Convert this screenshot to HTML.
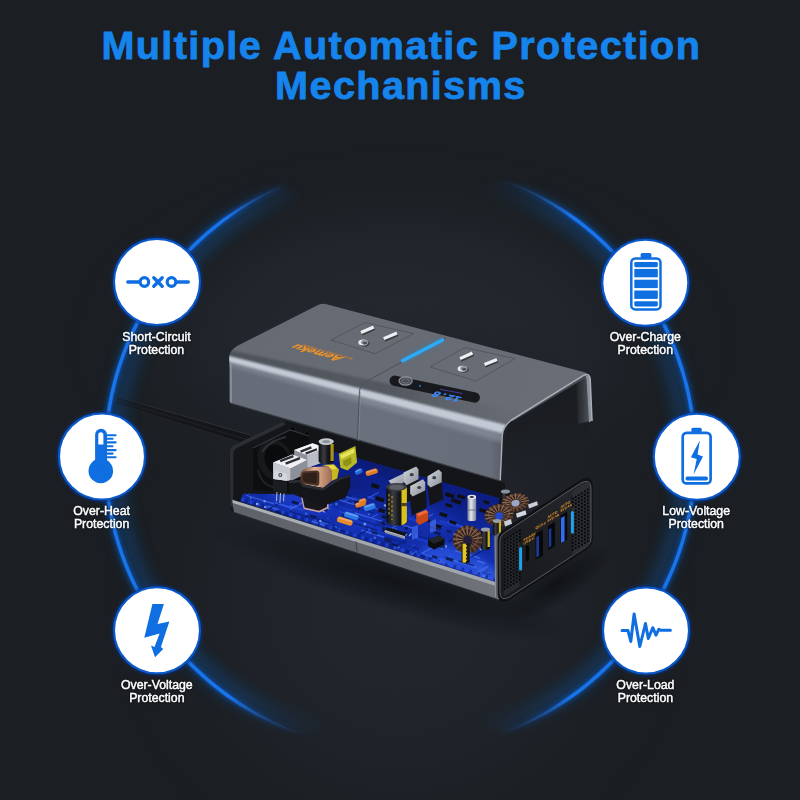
<!DOCTYPE html>
<html lang="en">
<head>
<meta charset="utf-8">
<title>Multiple Automatic Protection Mechanisms</title>
<style>
html,body{margin:0;padding:0;background:#1b1e22;}
body{width:800px;height:800px;overflow:hidden;font-family:"Liberation Sans",sans-serif;}
svg{display:block;}
.ttl{font-family:"Liberation Sans",sans-serif;font-weight:700;font-size:39.6px;fill:#1584ec;stroke:#1584ec;stroke-width:0.8px;letter-spacing:1.4px;}
.lbl{font-family:"Liberation Sans",sans-serif;font-size:12.3px;fill:#ffffff;stroke:#ffffff;stroke-width:0.45px;filter:drop-shadow(0 0 0.9px rgba(4,8,14,0.95));}
</style>
</head>
<body>
<svg width="800" height="800" viewBox="0 0 800 800">
<defs>
  <radialGradient id="bgWall" gradientUnits="userSpaceOnUse" cx="400" cy="345" r="340" gradientTransform="translate(0 345) scale(1 0.6) translate(0 -345)">
    <stop offset="0" stop-color="#252a31"/>
    <stop offset="0.55" stop-color="#20252b"/>
    <stop offset="1" stop-color="#1a1d21" stop-opacity="0"/>
  </radialGradient>
  <radialGradient id="bgFloor" gradientUnits="userSpaceOnUse" cx="400" cy="600" r="300">
    <stop offset="0" stop-color="#22272e"/>
    <stop offset="0.55" stop-color="#1f2329"/>
    <stop offset="1" stop-color="#1a1d21" stop-opacity="0"/>
  </radialGradient>
  <linearGradient id="arcFade" gradientUnits="userSpaceOnUse" x1="0" y1="178" x2="0" y2="736">
    <stop offset="0" stop-color="#fff" stop-opacity="0"/>
    <stop offset="0.07" stop-color="#fff" stop-opacity="1"/>
    <stop offset="0.93" stop-color="#fff" stop-opacity="1"/>
    <stop offset="1" stop-color="#fff" stop-opacity="0"/>
  </linearGradient>
  <mask id="arcMask" maskUnits="userSpaceOnUse" x="0" y="0" width="800" height="800">
    <rect x="0" y="150" width="800" height="620" fill="url(#arcFade)"/>
  </mask>
  <filter id="blur3" x="-20%" y="-20%" width="140%" height="140%"><feGaussianBlur stdDeviation="3"/></filter>
  <filter id="blur8" x="-30%" y="-30%" width="160%" height="160%"><feGaussianBlur stdDeviation="7"/></filter>
  <filter id="blur2" x="-30%" y="-30%" width="160%" height="160%"><feGaussianBlur stdDeviation="2.2"/></filter>
</defs>

<!-- background -->
<rect width="800" height="800" fill="#1b1e22"/>
<rect width="800" height="800" fill="url(#bgWall)"/>
<rect width="800" height="800" fill="url(#bgFloor)"/>

<!-- title -->
<text class="ttl" x="401.3" y="59" text-anchor="middle">Multiple Automatic Protection</text>
<text class="ttl" x="400.9" y="99" text-anchor="middle">Mechanisms</text>

<!-- glowing arcs -->
<g id="arcs" mask="url(#arcMask)">
<g fill="none" stroke-linecap="butt">
<path d="M281.6 186.4 A294.9 294.9 0 0 0 309.0 736.9" stroke="#0c4d8e" stroke-width="20" opacity="0.42" filter="url(#blur8)" transform="translate(9 0)"/>
<path d="M501.5 179.5 A294.9 294.9 0 0 1 502.0 733.2" stroke="#0c4d8e" stroke-width="20" opacity="0.42" filter="url(#blur8)" transform="translate(-9 0)"/>
<path d="M281.6 186.4 A294.9 294.9 0 0 0 309.0 736.9" stroke="#0b51b4" stroke-width="6" opacity="0.8" filter="url(#blur2)"/>
<path d="M501.5 179.5 A294.9 294.9 0 0 1 502.0 733.2" stroke="#0b51b4" stroke-width="6" opacity="0.8" filter="url(#blur2)"/>
</g>
<path d="M281.6 186.4 L277.4 187.9 L273.3 189.7 L269.3 191.5 L265.2 193.4 L261.2 195.4 L257.3 197.4 L253.3 199.5 L249.4 201.7 L245.6 203.9 L241.7 206.2 L237.9 208.6 L234.2 211.0 L230.5 213.5 L226.8 216.0 L223.1 218.6 L219.5 221.3 L216.0 224.0 L212.4 226.7 L209.0 229.6 L205.6 232.5 L202.2 235.4 L198.9 238.4 L195.6 241.5 L192.4 244.6 L189.3 247.8 L186.1 251.0 L183.1 254.2 L180.0 257.5 L177.1 260.9 L174.1 264.3 L171.3 267.7 L168.4 271.2 L165.7 274.7 L163.0 278.2 L160.3 281.8 L157.7 285.5 L155.1 289.2 L152.6 292.9 L150.2 296.6 L147.8 300.4 L145.5 304.2 L143.2 308.1 L141.0 312.0 L138.9 315.9 L136.8 319.9 L134.8 323.9 L132.8 327.9 L130.9 331.9 L129.0 336.0 L127.2 340.1 L125.5 344.2 L123.9 348.4 L122.3 352.6 L120.7 356.8 L119.3 361.0 L117.9 365.2 L116.5 369.5 L115.2 373.8 L114.0 378.1 L112.9 382.4 L111.8 386.8 L110.8 391.1 L109.8 395.5 L108.9 399.9 L108.1 404.3 L107.4 408.7 L106.7 413.1 L106.1 417.6 L105.5 422.0 L105.0 426.5 L104.6 430.9 L104.2 435.4 L104.0 439.8 L103.7 444.3 L103.6 448.8 L103.5 453.3 L103.5 457.7 L103.6 462.2 L103.7 466.7 L103.9 471.1 L104.1 475.6 L104.4 480.1 L104.8 484.5 L105.3 489.0 L105.8 493.4 L106.4 497.9 L107.1 502.3 L107.8 506.7 L108.6 511.1 L109.4 515.5 L110.4 519.9 L111.4 524.3 L112.4 528.6 L113.5 532.9 L114.7 537.2 L116.0 541.5 L117.3 545.8 L118.7 550.1 L120.1 554.3 L121.6 558.5 L123.2 562.7 L124.8 566.9 L126.5 571.0 L128.3 575.1 L130.1 579.2 L132.0 583.3 L134.0 587.3 L136.0 591.3 L138.0 595.3 L140.1 599.2 L142.3 603.1 L144.6 607.0 L146.9 610.8 L149.2 614.6 L151.6 618.4 L154.1 622.1 L156.7 625.8 L159.2 629.5 L161.9 633.1 L164.6 636.7 L167.3 640.2 L170.1 643.7 L173.0 647.2 L175.9 650.6 L178.8 653.9 L181.8 657.2 L184.9 660.5 L188.0 663.7 L191.1 666.9 L194.3 670.0 L197.6 673.1 L200.9 676.2 L204.2 679.1 L207.6 682.1 L211.0 684.9 L214.5 687.8 L218.0 690.5 L221.6 693.3 L225.1 695.9 L228.8 698.5 L232.5 701.1 L236.2 703.6 L240.0 706.0 L243.8 708.3 L247.6 710.6 L251.5 712.8 L255.4 715.0 L259.4 717.1 L263.4 719.1 L267.4 721.1 L271.4 723.0 L275.5 724.8 L279.6 726.6 L283.7 728.3 L287.8 729.9 L292.0 731.5 L296.2 733.0 L300.4 734.4 L304.7 735.7 L309.0 736.9 L309.0 736.9 L304.9 735.2 L300.8 733.6 L296.6 731.9 L292.5 730.2 L288.4 728.5 L284.4 726.7 L280.4 724.8 L276.4 722.9 L272.4 720.9 L268.4 718.9 L264.5 716.8 L260.7 714.7 L256.8 712.5 L253.0 710.2 L249.2 707.9 L245.5 705.6 L241.8 703.2 L238.1 700.7 L234.4 698.2 L230.8 695.7 L227.2 693.1 L223.7 690.5 L220.2 687.8 L216.7 685.0 L213.3 682.2 L209.9 679.4 L206.5 676.5 L203.2 673.6 L200.0 670.6 L196.8 667.5 L193.6 664.4 L190.5 661.3 L187.4 658.1 L184.4 654.9 L181.4 651.6 L178.5 648.3 L175.6 644.9 L172.8 641.5 L170.1 638.0 L167.3 634.6 L164.7 631.0 L162.1 627.4 L159.5 623.8 L157.0 620.2 L154.6 616.5 L152.2 612.8 L149.9 609.0 L147.6 605.2 L145.4 601.4 L143.2 597.5 L141.1 593.6 L139.1 589.7 L137.1 585.8 L135.2 581.8 L133.3 577.8 L131.5 573.7 L129.8 569.7 L128.1 565.6 L126.5 561.5 L124.9 557.3 L123.4 553.2 L122.0 549.0 L120.6 544.8 L119.3 540.5 L118.1 536.3 L116.9 532.0 L115.8 527.8 L114.8 523.5 L113.8 519.1 L112.9 514.8 L112.0 510.5 L111.2 506.1 L110.5 501.8 L109.9 497.4 L109.3 493.0 L108.8 488.6 L108.3 484.2 L107.9 479.8 L107.6 475.4 L107.4 471.0 L107.2 466.6 L107.1 462.1 L107.0 457.7 L107.0 453.3 L107.1 448.9 L107.2 444.5 L107.5 440.0 L107.7 435.6 L108.1 431.2 L108.5 426.8 L109.0 422.4 L109.5 418.0 L110.1 413.6 L110.8 409.3 L111.6 404.9 L112.4 400.6 L113.2 396.2 L114.2 391.9 L115.2 387.6 L116.3 383.3 L117.4 379.0 L118.6 374.8 L119.9 370.5 L121.2 366.3 L122.6 362.1 L124.0 357.9 L125.5 353.8 L127.1 349.7 L128.8 345.6 L130.5 341.5 L132.2 337.4 L134.1 333.4 L135.9 329.4 L137.9 325.4 L139.9 321.5 L142.0 317.6 L144.1 313.7 L146.3 309.8 L148.5 306.0 L150.8 302.2 L153.2 298.5 L155.6 294.8 L158.0 291.1 L160.6 287.5 L163.1 283.9 L165.8 280.3 L168.4 276.8 L171.2 273.3 L174.0 269.9 L176.8 266.5 L179.7 263.2 L182.6 259.9 L185.6 256.6 L188.7 253.4 L191.7 250.2 L194.9 247.1 L198.1 244.0 L201.3 241.0 L204.6 238.0 L207.9 235.1 L211.2 232.2 L214.6 229.4 L218.0 226.6 L221.5 223.8 L225.0 221.1 L228.5 218.4 L232.1 215.8 L235.7 213.2 L239.3 210.7 L243.0 208.3 L246.7 205.9 L250.5 203.5 L254.3 201.2 L258.1 199.0 L262.0 196.8 L265.9 194.6 L269.8 192.5 L273.7 190.5 L277.7 188.5 L281.6 186.4Z" fill="#1874ea"/>
<path d="M501.5 179.5 L505.8 180.8 L510.1 182.2 L514.3 183.8 L518.5 185.5 L522.6 187.2 L526.7 189.1 L530.8 190.9 L534.9 192.9 L538.9 194.9 L542.9 197.0 L546.9 199.1 L550.9 201.3 L554.8 203.6 L558.6 205.9 L562.5 208.3 L566.3 210.8 L570.0 213.3 L573.7 215.9 L577.4 218.5 L581.0 221.2 L584.6 224.0 L588.1 226.9 L591.6 229.8 L595.0 232.7 L598.4 235.7 L601.7 238.7 L605.0 241.8 L608.3 245.0 L611.4 248.2 L614.6 251.4 L617.7 254.7 L620.7 258.1 L623.7 261.4 L626.7 264.9 L629.6 268.3 L632.4 271.9 L635.2 275.4 L637.9 279.0 L640.6 282.7 L643.2 286.4 L645.8 290.1 L648.3 293.8 L650.7 297.6 L653.1 301.5 L655.5 305.4 L657.7 309.3 L659.9 313.2 L662.1 317.2 L664.2 321.2 L666.2 325.2 L668.2 329.3 L670.1 333.4 L671.9 337.5 L673.7 341.7 L675.4 345.9 L677.1 350.1 L678.7 354.3 L680.2 358.6 L681.7 362.8 L683.1 367.1 L684.4 371.5 L685.6 375.8 L686.8 380.2 L688.0 384.5 L689.0 388.9 L690.0 393.3 L690.9 397.8 L691.8 402.2 L692.6 406.7 L693.3 411.1 L694.0 415.6 L694.6 420.1 L695.1 424.6 L695.5 429.1 L695.9 433.6 L696.2 438.1 L696.5 442.6 L696.7 447.1 L696.8 451.6 L696.8 456.1 L696.8 460.7 L696.7 465.2 L696.5 469.7 L696.3 474.2 L696.0 478.7 L695.6 483.2 L695.1 487.7 L694.6 492.2 L694.0 496.7 L693.4 501.2 L692.7 505.6 L691.9 510.1 L691.0 514.5 L690.1 519.0 L689.1 523.4 L688.1 527.8 L687.0 532.1 L685.8 536.5 L684.5 540.8 L683.2 545.2 L681.8 549.5 L680.4 553.8 L678.9 558.0 L677.3 562.3 L675.6 566.5 L673.9 570.6 L672.1 574.8 L670.3 578.9 L668.4 583.0 L666.5 587.1 L664.4 591.2 L662.3 595.2 L660.2 599.1 L658.0 603.1 L655.7 607.0 L653.4 610.9 L651.0 614.7 L648.6 618.5 L646.1 622.3 L643.5 626.0 L640.9 629.7 L638.2 633.4 L635.5 637.0 L632.7 640.5 L629.9 644.1 L627.0 647.5 L624.1 651.0 L621.1 654.4 L618.0 657.7 L615.0 661.0 L611.8 664.2 L608.6 667.4 L605.4 670.6 L602.1 673.7 L598.8 676.8 L595.4 679.8 L591.9 682.7 L588.5 685.6 L585.0 688.4 L581.4 691.2 L577.8 694.0 L574.2 696.6 L570.4 699.2 L566.7 701.7 L562.9 704.2 L559.1 706.6 L555.2 708.9 L551.3 711.2 L547.4 713.4 L543.4 715.6 L539.4 717.6 L535.4 719.7 L531.3 721.6 L527.2 723.5 L523.1 725.3 L518.9 727.1 L514.7 728.8 L510.5 730.4 L506.3 731.9 L502.0 733.2 L502.0 733.2 L506.1 731.3 L510.2 729.5 L514.3 727.7 L518.4 725.8 L522.4 723.9 L526.4 721.9 L530.4 719.9 L534.4 717.8 L538.3 715.6 L542.2 713.4 L546.1 711.2 L549.9 708.9 L553.7 706.5 L557.5 704.1 L561.2 701.6 L564.9 699.1 L568.5 696.5 L572.1 693.8 L575.7 691.2 L579.3 688.5 L582.8 685.7 L586.3 682.9 L589.7 680.0 L593.1 677.1 L596.4 674.2 L599.7 671.1 L603.0 668.1 L606.2 665.0 L609.3 661.8 L612.4 658.6 L615.5 655.3 L618.5 652.0 L621.4 648.7 L624.3 645.3 L627.2 641.8 L630.0 638.4 L632.7 634.8 L635.4 631.3 L638.1 627.7 L640.7 624.0 L643.2 620.3 L645.6 616.6 L648.1 612.9 L650.4 609.1 L652.7 605.2 L655.0 601.4 L657.1 597.5 L659.2 593.5 L661.3 589.6 L663.3 585.6 L665.2 581.5 L667.1 577.5 L668.9 573.4 L670.7 569.3 L672.4 565.2 L674.0 561.0 L675.6 556.8 L677.1 552.6 L678.5 548.4 L679.9 544.1 L681.2 539.9 L682.4 535.6 L683.6 531.2 L684.7 526.9 L685.7 522.6 L686.7 518.2 L687.6 513.8 L688.5 509.5 L689.2 505.1 L689.9 500.6 L690.6 496.2 L691.2 491.8 L691.7 487.4 L692.1 482.9 L692.5 478.5 L692.8 474.0 L693.0 469.5 L693.2 465.1 L693.3 460.6 L693.3 456.1 L693.3 451.7 L693.2 447.2 L693.0 442.7 L692.7 438.3 L692.4 433.8 L692.1 429.4 L691.6 424.9 L691.1 420.5 L690.5 416.1 L689.9 411.6 L689.1 407.2 L688.4 402.8 L687.5 398.5 L686.6 394.1 L685.6 389.7 L684.6 385.4 L683.5 381.1 L682.3 376.7 L681.0 372.5 L679.7 368.2 L678.3 363.9 L676.9 359.7 L675.4 355.5 L673.8 351.3 L672.2 347.2 L670.5 343.0 L668.7 338.9 L666.9 334.8 L665.0 330.8 L663.1 326.8 L661.1 322.8 L659.0 318.8 L656.9 314.9 L654.7 311.0 L652.5 307.1 L650.1 303.3 L647.8 299.5 L645.4 295.8 L642.9 292.0 L640.4 288.4 L637.8 284.7 L635.1 281.1 L632.4 277.6 L629.7 274.0 L626.9 270.6 L624.0 267.1 L621.1 263.7 L618.1 260.4 L615.1 257.1 L612.1 253.8 L609.0 250.6 L605.8 247.5 L602.6 244.4 L599.3 241.3 L596.0 238.3 L592.7 235.3 L589.3 232.4 L585.9 229.6 L582.4 226.8 L578.9 224.0 L575.3 221.3 L571.7 218.7 L568.1 216.0 L564.5 213.5 L560.8 210.9 L557.0 208.5 L553.3 206.0 L549.5 203.7 L545.6 201.4 L541.8 199.1 L537.9 196.9 L533.9 194.8 L530.0 192.7 L526.0 190.7 L521.9 188.7 L517.9 186.8 L513.8 184.9 L509.7 183.1 L505.6 181.3 L501.5 179.5Z" fill="#1874ea"/>
</g>

<g id="product">
<defs>
<linearGradient id="gTop" gradientUnits="userSpaceOnUse" x1="260" y1="300" x2="540" y2="420">
<stop offset="0" stop-color="#666a72"/><stop offset="0.5" stop-color="#676b73"/><stop offset="1" stop-color="#696d75"/></linearGradient>
<linearGradient id="gFront" gradientUnits="userSpaceOnUse" x1="0" y1="0" x2="14" y2="-52" >
<stop offset="0" stop-color="#5f656e"/><stop offset="1" stop-color="#6c727b"/></linearGradient>
<linearGradient id="gFrontL" gradientUnits="userSpaceOnUse" x1="231" y1="0" x2="510" y2="0">
<stop offset="0" stop-color="#666c78"/><stop offset="0.452" stop-color="#676d79"/><stop offset="0.462" stop-color="#6a707c"/><stop offset="0.93" stop-color="#676d79"/><stop offset="0.975" stop-color="#585d65"/><stop offset="1" stop-color="#4f545c"/></linearGradient>
<linearGradient id="gFrontV" gradientUnits="userSpaceOnUse" x1="0" y1="395" x2="-14" y2="450">
<stop offset="0" stop-color="#000" stop-opacity="0"/><stop offset="1" stop-color="#000" stop-opacity="0.07"/></linearGradient>
<linearGradient id="gPcb" gradientUnits="userSpaceOnUse" x1="400" y1="470" x2="380" y2="552">
<stop offset="0" stop-color="#0c1c80"/><stop offset="0.5" stop-color="#10289c"/><stop offset="1" stop-color="#1634b8"/></linearGradient>
<linearGradient id="gRail" gradientUnits="userSpaceOnUse" x1="232" y1="0" x2="500" y2="0">
<stop offset="0" stop-color="#5f6369"/><stop offset="0.5" stop-color="#63676d"/><stop offset="1" stop-color="#70747a"/></linearGradient>
<linearGradient id="gRailTop" gradientUnits="userSpaceOnUse" x1="232" y1="0" x2="500" y2="0">
<stop offset="0" stop-color="#aeb3b9"/><stop offset="0.5" stop-color="#a4a9af"/><stop offset="1" stop-color="#a0a5ab"/></linearGradient>
<linearGradient id="gPanel" gradientUnits="userSpaceOnUse" x1="500" y1="600" x2="590" y2="480">
<stop offset="0" stop-color="#17191c"/><stop offset="0.5" stop-color="#1d1f23"/><stop offset="1" stop-color="#25282c"/></linearGradient>
<linearGradient id="gCopper" x1="0" y1="0" x2="1" y2="0">
<stop offset="0" stop-color="#6a4632"/><stop offset="0.45" stop-color="#e2b696"/><stop offset="1" stop-color="#a06c50"/></linearGradient>
<linearGradient id="gSilver" x1="0" y1="0" x2="1" y2="1">
<stop offset="0" stop-color="#d2d6dc"/><stop offset="1" stop-color="#8a9099"/></linearGradient>
<linearGradient id="gCyl" x1="0" y1="0" x2="1" y2="0">
<stop offset="0" stop-color="#0c0d0f"/><stop offset="0.35" stop-color="#3a3d42"/><stop offset="0.6" stop-color="#17181b"/><stop offset="1" stop-color="#0a0b0c"/></linearGradient>
<linearGradient id="gStand" x1="0" y1="0" x2="1" y2="0">
<stop offset="0" stop-color="#6d7588"/><stop offset="0.4" stop-color="#e4e8f2"/><stop offset="1" stop-color="#7a8296"/></linearGradient>
<radialGradient id="gShadow" cx="0.5" cy="0.5" r="0.5"><stop offset="0" stop-color="#0c0e10" stop-opacity="0.75"/><stop offset="0.6" stop-color="#0c0e10" stop-opacity="0.35"/><stop offset="1" stop-color="#0c0e10" stop-opacity="0"/></radialGradient>
<filter id="pblur1" x="-10%" y="-10%" width="120%" height="120%"><feGaussianBlur stdDeviation="0.6"/></filter>
<filter id="pblur2" x="-20%" y="-20%" width="140%" height="140%"><feGaussianBlur stdDeviation="1.6"/></filter>
<filter id="pblur5" x="-30%" y="-30%" width="160%" height="160%"><feGaussianBlur stdDeviation="5"/></filter>
<clipPath id="clipPcb"><polygon points="240,501 500,583 500,501 357,458 292,440 270,470"/></clipPath>

</defs>
<g id="floorShadow">
<ellipse cx="392" cy="580" rx="190" ry="30" fill="url(#gShadow)" transform="rotate(16.5 392 580)"/>
<ellipse cx="556" cy="584" rx="66" ry="20" fill="url(#gShadow)" transform="rotate(-33 556 584)"/>
</g>
<defs><linearGradient id="gCableFade" gradientUnits="userSpaceOnUse" x1="112" y1="0" x2="235" y2="0"><stop offset="0" stop-color="#fff" stop-opacity="0.25"/><stop offset="0.35" stop-color="#fff" stop-opacity="0.65"/><stop offset="1" stop-color="#fff" stop-opacity="1"/></linearGradient><mask id="cableMask" maskUnits="userSpaceOnUse" x="100" y="380" width="160" height="80"><rect x="100" y="380" width="160" height="80" fill="url(#gCableFade)"/></mask></defs>
<g id="cable" mask="url(#cableMask)">
<polygon points="117.0,396.5 250.0,434.5 250.0,445.5 117.0,403.5" fill="#131518" />
<path d="M117 396.8L250 435" stroke="#33373c" stroke-width="1" fill="none" opacity="0.9"/>
<path d="M117 400.3L250 440.5" stroke="#24272b" stroke-width="0.8" fill="none"/>
<path d="M117 403.5L250 445.5" stroke="#2a2d31" stroke-width="0.8" fill="none" opacity="0.8"/>
</g>
<g id="body">
<polygon points="286.0,421.0 505.0,483.0 505.0,520.0 286.0,470.0" fill="#131518" />
<polygon points="238.0,500.5 499.0,583.5 499.0,498.0 357.0,458.0 300.0,442.0 262.0,470.0" fill="url(#gPcb)" />
<g clip-path="url(#clipPcb)">
<ellipse cx="300" cy="500" rx="36" ry="10" fill="#2246e0" opacity="0.55" filter="url(#pblur5)" transform="rotate(17 300 500)"/>
<ellipse cx="365" cy="522" rx="34" ry="10" fill="#1e40d8" opacity="0.45" filter="url(#pblur5)" transform="rotate(17 365 522)"/>
<ellipse cx="455" cy="560" rx="34" ry="12" fill="#3060f0" opacity="0.60" filter="url(#pblur5)" transform="rotate(17 455 560)"/>
<ellipse cx="430" cy="520" rx="30" ry="10" fill="#1c3cd0" opacity="0.40" filter="url(#pblur5)" transform="rotate(17 430 520)"/>
<ellipse cx="340" cy="480" rx="30" ry="9" fill="#0b1d78" opacity="0.55" filter="url(#pblur5)" transform="rotate(17 340 480)"/>
<ellipse cx="400" cy="470" rx="40" ry="8" fill="#0a1a66" opacity="0.60" filter="url(#pblur5)" transform="rotate(17 400 470)"/>
<ellipse cx="470" cy="500" rx="26" ry="8" fill="#0b1d78" opacity="0.50" filter="url(#pblur5)" transform="rotate(17 470 500)"/>
<ellipse cx="385" cy="545" rx="26" ry="6" fill="#0b1d78" opacity="0.35" filter="url(#pblur5)" transform="rotate(17 385 545)"/>
<ellipse cx="488" cy="575" rx="14" ry="8" fill="#4a78f8" opacity="0.55" filter="url(#pblur5)" transform="rotate(17 488 575)"/>
<g opacity="0.7">
<path d="M354.6 512.8l28.2 8.7" stroke="#4a74f4" stroke-width="1.3" fill="none"/>
<path d="M451.2 559.7l25.3 7.8" stroke="#4a74f4" stroke-width="1.5" fill="none"/>
<path d="M436.3 559.5l13.3 4.1" stroke="#3c64f0" stroke-width="1.4" fill="none"/>
<path d="M459.7 541.9l20.3 6.3" stroke="#4a74f4" stroke-width="2.0" fill="none"/>
<path d="M402.9 525.2l9.8 3.0" stroke="#3c64f0" stroke-width="1.8" fill="none"/>
<path d="M261.2 507.9l27.1 8.4" stroke="#08195e" stroke-width="0.7" fill="none"/>
<path d="M357.3 519.1l26.2 8.1" stroke="#08195e" stroke-width="1.0" fill="none"/>
<path d="M316.6 526.5l8.0 2.5" stroke="#2a4ce4" stroke-width="1.1" fill="none"/>
<path d="M485.4 533.3l26.2 8.1" stroke="#2a4ce4" stroke-width="1.0" fill="none"/>
<path d="M427.9 537.7l6.7 2.1" stroke="#08195e" stroke-width="1.7" fill="none"/>
<path d="M342.1 495.7l15.3 4.7" stroke="#3c64f0" stroke-width="1.8" fill="none"/>
<path d="M246.1 495.3l27.8 8.6" stroke="#4a74f4" stroke-width="1.2" fill="none"/>
<path d="M416.1 538.3l19.6 6.1" stroke="#2244dc" stroke-width="1.7" fill="none"/>
<path d="M310.7 520.9l14.0 4.3" stroke="#4a74f4" stroke-width="1.7" fill="none"/>
<path d="M274.3 502.3l8.4 2.6" stroke="#3c64f0" stroke-width="1.3" fill="none"/>
<path d="M362.8 509.7l10.5 3.3" stroke="#08195e" stroke-width="0.9" fill="none"/>
<path d="M421.7 553.3l21.4 6.6" stroke="#3c64f0" stroke-width="1.2" fill="none"/>
<path d="M483.6 578.5l26.7 8.3" stroke="#08195e" stroke-width="1.1" fill="none"/>
<path d="M458.4 561.0l15.5 4.8" stroke="#08195e" stroke-width="1.5" fill="none"/>
<path d="M270.1 466.8l11.1 3.4" stroke="#0a2280" stroke-width="0.7" fill="none"/>
<path d="M392.5 512.1l15.3 4.7" stroke="#3c64f0" stroke-width="0.8" fill="none"/>
<path d="M385.9 537.0l20.4 6.3" stroke="#0a2280" stroke-width="1.5" fill="none"/>
<path d="M276.5 487.3l26.0 8.1" stroke="#2244dc" stroke-width="1.8" fill="none"/>
<path d="M289.9 511.4l27.8 8.6" stroke="#08195e" stroke-width="1.0" fill="none"/>
<path d="M291.6 485.0l28.6 8.9" stroke="#2244dc" stroke-width="1.6" fill="none"/>
<path d="M339.2 511.5l7.9 2.4" stroke="#3c64f0" stroke-width="0.8" fill="none"/>
<path d="M255.3 463.5l11.7 3.6" stroke="#2a4ce4" stroke-width="1.2" fill="none"/>
<path d="M347.0 494.5l17.8 5.5" stroke="#08195e" stroke-width="0.9" fill="none"/>
<path d="M418.9 555.3l11.5 3.6" stroke="#08195e" stroke-width="1.5" fill="none"/>
<path d="M393.8 547.3l11.1 3.4" stroke="#2244dc" stroke-width="1.7" fill="none"/>
<path d="M262.6 491.1l12.0 3.7" stroke="#3c64f0" stroke-width="0.9" fill="none"/>
<path d="M334.5 506.0l9.2 2.8" stroke="#0a2280" stroke-width="0.9" fill="none"/>
<path d="M354.1 523.1l23.6 7.3" stroke="#08195e" stroke-width="1.5" fill="none"/>
<path d="M279.7 513.7l6.4 2.0" stroke="#0a2280" stroke-width="1.6" fill="none"/>
<path d="M477.1 575.5l21.3 6.6" stroke="#4a74f4" stroke-width="0.8" fill="none"/>
<path d="M320.7 521.7l7.7 2.4" stroke="#4a74f4" stroke-width="1.4" fill="none"/>
<path d="M422.9 518.3l23.7 7.3" stroke="#2a4ce4" stroke-width="0.9" fill="none"/>
<path d="M477.2 560.8l8.0 2.5" stroke="#4a74f4" stroke-width="1.9" fill="none"/>
<path d="M455.1 550.5l25.0 7.7" stroke="#4a74f4" stroke-width="1.4" fill="none"/>
<path d="M396.0 533.8l20.0 6.2" stroke="#08195e" stroke-width="0.8" fill="none"/>
<path d="M267.8 506.3l12.2 3.8" stroke="#4a74f4" stroke-width="1.6" fill="none"/>
<path d="M339.2 499.9l19.9 6.2" stroke="#4a74f4" stroke-width="1.3" fill="none"/>
<path d="M375.9 521.3l18.3 5.7" stroke="#0a2280" stroke-width="1.5" fill="none"/>
<path d="M361.4 530.1l22.8 7.1" stroke="#4a74f4" stroke-width="1.7" fill="none"/>
<path d="M404.4 531.6l27.5 8.5" stroke="#0a2280" stroke-width="1.1" fill="none"/>
<path d="M408.8 546.0l10.1 3.1" stroke="#0a2280" stroke-width="1.6" fill="none"/>
<path d="M352.1 496.7l13.8 4.3" stroke="#2a4ce4" stroke-width="1.0" fill="none"/>
<path d="M398.2 515.1l24.1 7.5" stroke="#2244dc" stroke-width="1.8" fill="none"/>
<path d="M338.3 506.6l13.6 4.2" stroke="#2244dc" stroke-width="0.9" fill="none"/>
<path d="M330.2 489.8l7.0 2.2" stroke="#3c64f0" stroke-width="1.9" fill="none"/>
<path d="M312.4 517.7l16.8 5.2" stroke="#0a2280" stroke-width="1.9" fill="none"/>
<path d="M445.4 549.1l18.5 5.7" stroke="#2a4ce4" stroke-width="1.1" fill="none"/>
<path d="M447.4 522.1l16.9 5.2" stroke="#3c64f0" stroke-width="1.8" fill="none"/>
<path d="M312.7 497.6l22.3 6.9" stroke="#0a2280" stroke-width="1.4" fill="none"/>
<path d="M320.2 491.4l6.5 2.0" stroke="#2244dc" stroke-width="1.2" fill="none"/>
<path d="M291.6 483.6l12.4 3.8" stroke="#2244dc" stroke-width="1.7" fill="none"/>
<path d="M482.2 572.8l8.6 2.7" stroke="#08195e" stroke-width="1.6" fill="none"/>
<path d="M439.8 520.8l22.4 7.0" stroke="#2244dc" stroke-width="1.8" fill="none"/>
<path d="M307.5 491.1l24.1 7.5" stroke="#08195e" stroke-width="1.6" fill="none"/>
<path d="M289.0 505.7l14.3 4.4" stroke="#2a4ce4" stroke-width="1.9" fill="none"/>
<path d="M366.1 496.2l9.8 3.0" stroke="#2a4ce4" stroke-width="1.9" fill="none"/>
<path d="M266.9 468.4l23.3 7.2" stroke="#2244dc" stroke-width="1.3" fill="none"/>
<path d="M293.3 478.7l6.2 1.9" stroke="#08195e" stroke-width="1.4" fill="none"/>
<path d="M457.0 533.6l28.7 8.9" stroke="#4a74f4" stroke-width="1.1" fill="none"/>
<path d="M481.8 573.4l26.8 8.3" stroke="#2a4ce4" stroke-width="1.9" fill="none"/>
<path d="M275.6 502.9l15.4 4.8" stroke="#3c64f0" stroke-width="2.0" fill="none"/>
<path d="M374.9 508.4l13.7 4.2" stroke="#2a4ce4" stroke-width="1.8" fill="none"/>
<path d="M329.6 527.0l16.6 5.1" stroke="#08195e" stroke-width="1.2" fill="none"/>
<path d="M312.1 483.0l11.2 3.5" stroke="#3c64f0" stroke-width="1.3" fill="none"/>
<path d="M254.4 482.9l22.5 7.0" stroke="#2244dc" stroke-width="1.3" fill="none"/>
<path d="M486.0 537.8l10.2 -5.6" stroke="#08195e" stroke-width="1.6" fill="none"/>
<path d="M364.2 497.8l5.0 -2.8" stroke="#0a2280" stroke-width="1.1" fill="none"/>
<path d="M380.1 508.2l10.7 -5.9" stroke="#0a2280" stroke-width="1.2" fill="none"/>
<path d="M448.5 541.9l7.7 -4.3" stroke="#08195e" stroke-width="1.7" fill="none"/>
<path d="M454.8 541.6l7.7 -4.2" stroke="#0a2280" stroke-width="1.7" fill="none"/>
<path d="M371.8 517.5l6.4 -3.5" stroke="#3c64f0" stroke-width="1.2" fill="none"/>
<path d="M391.3 548.6l15.6 -8.6" stroke="#08195e" stroke-width="1.2" fill="none"/>
<path d="M483.5 572.9l5.1 -2.8" stroke="#0a2280" stroke-width="0.8" fill="none"/>
<path d="M375.3 525.9l15.5 -8.5" stroke="#08195e" stroke-width="1.0" fill="none"/>
<path d="M359.6 534.2l9.2 -5.1" stroke="#08195e" stroke-width="1.2" fill="none"/>
<path d="M272.1 493.6l4.4 -2.4" stroke="#4a74f4" stroke-width="0.8" fill="none"/>
<path d="M433.0 561.8l6.3 -3.5" stroke="#0a2280" stroke-width="0.7" fill="none"/>
<path d="M314.2 492.7l6.9 -3.8" stroke="#08195e" stroke-width="0.8" fill="none"/>
<path d="M421.4 553.6l10.1 -5.6" stroke="#4a74f4" stroke-width="1.4" fill="none"/>
<path d="M414.3 516.6l4.3 -2.4" stroke="#08195e" stroke-width="1.5" fill="none"/>
<path d="M393.8 525.9l14.4 -7.9" stroke="#0a2280" stroke-width="1.2" fill="none"/>
<path d="M450.3 540.1l14.3 -7.9" stroke="#0a2280" stroke-width="1.6" fill="none"/>
<path d="M396.7 535.6l6.2 -3.4" stroke="#4a74f4" stroke-width="1.6" fill="none"/>
<path d="M292.7 483.5l6.3 -3.5" stroke="#3c64f0" stroke-width="0.8" fill="none"/>
<path d="M303.4 489.2l7.1 -3.9" stroke="#3c64f0" stroke-width="1.1" fill="none"/>
<path d="M471.9 549.9l12.5 -6.9" stroke="#0a2280" stroke-width="1.1" fill="none"/>
<path d="M410.5 555.0l6.4 -3.5" stroke="#4a74f4" stroke-width="1.6" fill="none"/>
<path d="M478.4 571.6l10.1 -5.5" stroke="#4a74f4" stroke-width="1.2" fill="none"/>
<path d="M410.6 547.2l4.8 -2.7" stroke="#3c64f0" stroke-width="0.7" fill="none"/>
<path d="M428.9 533.3l14.9 -8.2" stroke="#08195e" stroke-width="0.8" fill="none"/>
<path d="M290.3 509.2l14.1 -7.7" stroke="#4a74f4" stroke-width="1.6" fill="none"/>
<path d="M268.9 509.1l15.4 -8.5" stroke="#08195e" stroke-width="0.8" fill="none"/>
<path d="M269.2 494.1l9.1 -5.0" stroke="#4a74f4" stroke-width="1.1" fill="none"/>
<path d="M390.2 549.0l12.4 -6.8" stroke="#0a2280" stroke-width="0.9" fill="none"/>
<path d="M354.9 504.6l8.9 -4.9" stroke="#0a2280" stroke-width="1.3" fill="none"/>
<path d="M268.8 475.5l7.9 -4.3" stroke="#3c64f0" stroke-width="1.5" fill="none"/>
<path d="M415.1 517.7l11.6 -6.4" stroke="#08195e" stroke-width="1.3" fill="none"/>
<path d="M291.8 492.2l8.1 -4.5" stroke="#4a74f4" stroke-width="1.0" fill="none"/>
<path d="M273.9 479.3l5.9 -3.3" stroke="#08195e" stroke-width="0.8" fill="none"/>
<path d="M325.2 504.6l8.4 -4.6" stroke="#08195e" stroke-width="1.5" fill="none"/>
<path d="M343.4 501.8l4.8 -2.7" stroke="#4a74f4" stroke-width="1.0" fill="none"/>
<path d="M270.2 471.5l15.9 -8.7" stroke="#3c64f0" stroke-width="0.9" fill="none"/>
<path d="M472.7 544.5l8.1 -4.4" stroke="#08195e" stroke-width="1.3" fill="none"/>
<path d="M373.9 526.6l16.0 -8.8" stroke="#0a2280" stroke-width="1.4" fill="none"/>
<path d="M428.8 516.4l4.3 -2.4" stroke="#3c64f0" stroke-width="1.4" fill="none"/>
<path d="M307.6 505.5l4.6 -2.5" stroke="#0a2280" stroke-width="1.3" fill="none"/>
<path d="M248.6 493.8l7.3 -4.0" stroke="#4a74f4" stroke-width="1.3" fill="none"/>
<path d="M367.9 498.2l10.8 -5.9" stroke="#3c64f0" stroke-width="1.3" fill="none"/>
<path d="M440.3 561.6l11.2 -6.1" stroke="#3c64f0" stroke-width="1.1" fill="none"/>
<path d="M471.3 556.9l15.6 -8.6" stroke="#08195e" stroke-width="1.2" fill="none"/>
<path d="M389.2 529.5l9.9 -5.5" stroke="#4a74f4" stroke-width="1.2" fill="none"/>
<path d="M389.5 532.5l7.4 -4.1" stroke="#4a74f4" stroke-width="1.3" fill="none"/>
<path d="M314.0 493.0l7.6 -4.2" stroke="#3c64f0" stroke-width="1.5" fill="none"/>
<path d="M386.6 519.3l8.9 -4.9" stroke="#08195e" stroke-width="0.8" fill="none"/>
<path d="M321.6 510.0l11.0 -6.0" stroke="#4a74f4" stroke-width="0.8" fill="none"/>
<circle cx="467.9" cy="554.7" r="1.0" fill="#08185c"/>
<circle cx="257.1" cy="504.0" r="1.3" fill="#c9dcff"/>
<circle cx="281.4" cy="473.6" r="0.8" fill="#8fbaff"/>
<circle cx="258.3" cy="490.3" r="0.7" fill="#8fbaff"/>
<circle cx="333.4" cy="525.1" r="0.9" fill="#08185c"/>
<circle cx="409.6" cy="535.5" r="0.8" fill="#c9dcff"/>
<circle cx="335.2" cy="499.8" r="1.3" fill="#08185c"/>
<circle cx="479.4" cy="544.9" r="0.8" fill="#8fbaff"/>
<circle cx="369.2" cy="529.5" r="1.1" fill="#4a78f8"/>
<circle cx="313.3" cy="498.9" r="1.3" fill="#08185c"/>
<circle cx="401.1" cy="519.8" r="0.8" fill="#08185c"/>
<circle cx="369.0" cy="514.3" r="0.8" fill="#8fbaff"/>
<circle cx="400.0" cy="552.2" r="0.8" fill="#8fbaff"/>
<circle cx="398.7" cy="547.7" r="1.1" fill="#8fbaff"/>
<circle cx="431.2" cy="522.1" r="0.7" fill="#08185c"/>
<circle cx="400.6" cy="536.4" r="1.0" fill="#08185c"/>
<circle cx="328.9" cy="508.8" r="0.7" fill="#8fbaff"/>
<circle cx="442.6" cy="546.1" r="1.3" fill="#08185c"/>
<circle cx="354.9" cy="505.7" r="1.0" fill="#08185c"/>
<circle cx="336.4" cy="504.1" r="1.5" fill="#4a78f8"/>
<circle cx="317.3" cy="493.6" r="1.3" fill="#08185c"/>
<circle cx="350.8" cy="521.1" r="0.7" fill="#4a78f8"/>
<circle cx="265.2" cy="507.2" r="1.1" fill="#c9dcff"/>
<circle cx="445.7" cy="546.4" r="1.3" fill="#8fbaff"/>
<circle cx="264.6" cy="501.3" r="1.2" fill="#8fbaff"/>
<circle cx="416.3" cy="535.9" r="1.3" fill="#4a78f8"/>
<circle cx="315.3" cy="520.1" r="0.9" fill="#4a78f8"/>
<circle cx="335.8" cy="527.5" r="1.2" fill="#4a78f8"/>
<circle cx="353.3" cy="502.8" r="0.9" fill="#4a78f8"/>
<circle cx="300.2" cy="479.1" r="1.3" fill="#08185c"/>
<circle cx="266.7" cy="474.8" r="0.6" fill="#c9dcff"/>
<circle cx="389.3" cy="514.2" r="1.3" fill="#4a78f8"/>
<circle cx="441.3" cy="541.6" r="1.4" fill="#08185c"/>
<circle cx="289.3" cy="484.9" r="1.4" fill="#4a78f8"/>
<circle cx="444.9" cy="556.8" r="0.7" fill="#08185c"/>
<circle cx="385.0" cy="505.4" r="1.2" fill="#c9dcff"/>
<circle cx="261.7" cy="485.7" r="1.3" fill="#8fbaff"/>
<circle cx="328.0" cy="518.2" r="0.7" fill="#4a78f8"/>
<circle cx="266.8" cy="483.4" r="0.7" fill="#c9dcff"/>
<circle cx="306.1" cy="513.8" r="1.3" fill="#4a78f8"/>
<circle cx="433.4" cy="545.6" r="0.9" fill="#4a78f8"/>
<circle cx="410.7" cy="534.2" r="1.1" fill="#8fbaff"/>
<circle cx="419.5" cy="518.4" r="1.0" fill="#4a78f8"/>
<circle cx="455.1" cy="534.2" r="1.4" fill="#c9dcff"/>
<circle cx="480.7" cy="549.4" r="1.1" fill="#8fbaff"/>
<circle cx="442.6" cy="547.2" r="1.0" fill="#08185c"/>
<circle cx="306.2" cy="516.4" r="1.2" fill="#08185c"/>
<circle cx="324.6" cy="512.1" r="1.1" fill="#4a78f8"/>
<circle cx="483.6" cy="575.9" r="0.9" fill="#8fbaff"/>
<circle cx="320.4" cy="521.1" r="1.4" fill="#8fbaff"/>
<circle cx="430.5" cy="561.3" r="1.0" fill="#8fbaff"/>
<circle cx="322.6" cy="519.9" r="0.9" fill="#08185c"/>
<circle cx="393.0" cy="529.7" r="1.1" fill="#c9dcff"/>
<circle cx="291.3" cy="506.5" r="0.8" fill="#4a78f8"/>
<circle cx="399.6" cy="511.0" r="1.1" fill="#4a78f8"/>
<circle cx="364.8" cy="524.0" r="1.5" fill="#8fbaff"/>
<circle cx="364.2" cy="531.8" r="0.6" fill="#08185c"/>
<circle cx="442.3" cy="548.8" r="1.1" fill="#4a78f8"/>
<circle cx="439.0" cy="562.1" r="1.4" fill="#8fbaff"/>
<circle cx="460.1" cy="531.4" r="1.0" fill="#08185c"/>
<circle cx="420.8" cy="532.4" r="0.7" fill="#08185c"/>
<circle cx="435.1" cy="557.1" r="1.4" fill="#08185c"/>
<circle cx="402.1" cy="509.5" r="0.8" fill="#8fbaff"/>
<circle cx="282.9" cy="482.4" r="0.6" fill="#08185c"/>
<circle cx="447.4" cy="563.7" r="0.8" fill="#8fbaff"/>
<circle cx="464.0" cy="541.9" r="0.7" fill="#4a78f8"/>
<circle cx="250.7" cy="498.0" r="0.8" fill="#8fbaff"/>
<circle cx="437.4" cy="544.8" r="0.6" fill="#c9dcff"/>
<circle cx="374.8" cy="537.9" r="1.3" fill="#4a78f8"/>
<circle cx="323.4" cy="511.0" r="1.1" fill="#c9dcff"/>
<rect x="406.8" y="549.9" width="3.4" height="2.1" fill="#11194a" transform="rotate(17 406.8 549.9)"/>
<rect x="342.6" y="513.4" width="7.8" height="3.3" fill="#11194a" transform="rotate(17 342.6 513.4)"/>
<rect x="354.6" y="500.3" width="6.6" height="2.7" fill="#0a1030" transform="rotate(17 354.6 500.3)"/>
<rect x="382.6" y="526.0" width="3.1" height="3.6" fill="#11194a" transform="rotate(17 382.6 526.0)"/>
<rect x="298.6" y="493.3" width="4.5" height="2.5" fill="#11194a" transform="rotate(17 298.6 493.3)"/>
<rect x="426.2" y="518.6" width="6.8" height="2.8" fill="#070b22" transform="rotate(17 426.2 518.6)"/>
<rect x="310.3" y="514.4" width="6.7" height="2.4" fill="#0a1030" transform="rotate(17 310.3 514.4)"/>
<rect x="382.3" y="514.7" width="4.7" height="3.3" fill="#070b22" transform="rotate(17 382.3 514.7)"/>
<rect x="273.9" y="485.4" width="3.7" height="2.9" fill="#070b22" transform="rotate(17 273.9 485.4)"/>
<rect x="292.3" y="500.3" width="7.2" height="2.9" fill="#070b22" transform="rotate(17 292.3 500.3)"/>
<rect x="273.6" y="510.1" width="7.9" height="2.6" fill="#070b22" transform="rotate(17 273.6 510.1)"/>
<rect x="330.3" y="494.4" width="7.6" height="2.1" fill="#070b22" transform="rotate(17 330.3 494.4)"/>
<rect x="430.2" y="525.5" width="4.9" height="2.4" fill="#0a1030" transform="rotate(17 430.2 525.5)"/>
<rect x="396.4" y="519.0" width="6.1" height="2.4" fill="#070b22" transform="rotate(17 396.4 519.0)"/>
<rect x="405.2" y="526.6" width="3.1" height="2.4" fill="#0a1030" transform="rotate(17 405.2 526.6)"/>
<rect x="322.1" y="507.9" width="5.8" height="2.2" fill="#0a1030" transform="rotate(17 322.1 507.9)"/>
<rect x="435.3" y="526.9" width="6.1" height="2.1" fill="#11194a" transform="rotate(17 435.3 526.9)"/>
<rect x="462.2" y="546.9" width="4.8" height="2.7" fill="#070b22" transform="rotate(17 462.2 546.9)"/>
<rect x="384.9" y="537.6" width="7.7" height="3.6" fill="#11194a" transform="rotate(17 384.9 537.6)"/>
<rect x="446.3" y="556.7" width="7.7" height="2.9" fill="#070b22" transform="rotate(17 446.3 556.7)"/>
<rect x="432.5" y="555.0" width="5.4" height="2.6" fill="#0a1030" transform="rotate(17 432.5 555.0)"/>
<rect x="327.4" y="489.1" width="4.8" height="2.6" fill="#070b22" transform="rotate(17 327.4 489.1)"/>
<rect x="356.3" y="506.4" width="4.2" height="2.8" fill="#11194a" transform="rotate(17 356.3 506.4)"/>
<rect x="381.8" y="521.4" width="4.3" height="3.4" fill="#0a1030" transform="rotate(17 381.8 521.4)"/>
<rect x="391.4" y="542.8" width="7.1" height="2.3" fill="#0a1030" transform="rotate(17 391.4 542.8)"/>
<rect x="306.6" y="497.6" width="7.2" height="2.1" fill="#11194a" transform="rotate(17 306.6 497.6)"/>
<rect x="440.6" y="544.1" width="5.0" height="3.2" fill="#11194a" transform="rotate(17 440.6 544.1)"/>
<rect x="282.5" y="482.4" width="7.2" height="3.4" fill="#11194a" transform="rotate(17 282.5 482.4)"/>
<rect x="389.1" y="513.5" width="3.1" height="2.2" fill="#0a1030" transform="rotate(17 389.1 513.5)"/>
<rect x="257.8" y="484.3" width="3.6" height="2.5" fill="#0a1030" transform="rotate(17 257.8 484.3)"/>
<rect x="372.1" y="530.9" width="5.8" height="2.4" fill="#11194a" transform="rotate(17 372.1 530.9)"/>
<rect x="434.2" y="530.9" width="6.9" height="2.5" fill="#0a1030" transform="rotate(17 434.2 530.9)"/>
<rect x="391.0" y="528.1" width="5.1" height="2.9" fill="#11194a" transform="rotate(17 391.0 528.1)"/>
<rect x="382.7" y="528.2" width="4.4" height="3.4" fill="#0a1030" transform="rotate(17 382.7 528.2)"/>
<rect x="447.0" y="529.3" width="5.0" height="2.6" fill="#11194a" transform="rotate(17 447.0 529.3)"/>
<rect x="276.9" y="473.0" width="4.7" height="2.7" fill="#0a1030" transform="rotate(17 276.9 473.0)"/>
</g>
<path d="M242.0 502.1l1.3 -4.2" stroke="#3058f0" stroke-width="2" opacity="0.6"/>
<path d="M246.0 503.4l1.3 -4.2" stroke="#0a1c78" stroke-width="2" opacity="0.6"/>
<path d="M250.0 504.7l1.3 -4.2" stroke="#3058f0" stroke-width="2" opacity="0.6"/>
<path d="M254.0 505.9l1.3 -4.2" stroke="#0a1c78" stroke-width="2" opacity="0.6"/>
<path d="M258.0 507.2l1.3 -4.2" stroke="#3058f0" stroke-width="2" opacity="0.6"/>
<path d="M262.0 508.5l1.3 -4.2" stroke="#0a1c78" stroke-width="2" opacity="0.6"/>
<path d="M266.0 509.7l1.3 -4.2" stroke="#3058f0" stroke-width="2" opacity="0.6"/>
<path d="M270.0 511.0l1.3 -4.2" stroke="#0a1c78" stroke-width="2" opacity="0.6"/>
<path d="M274.0 512.3l1.3 -4.2" stroke="#3058f0" stroke-width="2" opacity="0.6"/>
<path d="M278.0 513.5l1.3 -4.2" stroke="#0a1c78" stroke-width="2" opacity="0.6"/>
<path d="M282.0 514.8l1.3 -4.2" stroke="#3058f0" stroke-width="2" opacity="0.6"/>
<path d="M286.0 516.1l1.3 -4.2" stroke="#0a1c78" stroke-width="2" opacity="0.6"/>
<path d="M290.0 517.3l1.3 -4.2" stroke="#3058f0" stroke-width="2" opacity="0.6"/>
<path d="M294.0 518.6l1.3 -4.2" stroke="#0a1c78" stroke-width="2" opacity="0.6"/>
<path d="M298.0 519.9l1.3 -4.2" stroke="#3058f0" stroke-width="2" opacity="0.6"/>
<path d="M302.0 521.1l1.3 -4.2" stroke="#0a1c78" stroke-width="2" opacity="0.6"/>
<path d="M306.0 522.4l1.3 -4.2" stroke="#3058f0" stroke-width="2" opacity="0.6"/>
<path d="M310.0 523.7l1.3 -4.2" stroke="#0a1c78" stroke-width="2" opacity="0.6"/>
<path d="M314.0 524.9l1.3 -4.2" stroke="#3058f0" stroke-width="2" opacity="0.6"/>
<path d="M318.0 526.2l1.3 -4.2" stroke="#0a1c78" stroke-width="2" opacity="0.6"/>
<path d="M322.0 527.5l1.3 -4.2" stroke="#3058f0" stroke-width="2" opacity="0.6"/>
<path d="M326.0 528.7l1.3 -4.2" stroke="#0a1c78" stroke-width="2" opacity="0.6"/>
<path d="M330.0 530.0l1.3 -4.2" stroke="#3058f0" stroke-width="2" opacity="0.6"/>
<path d="M334.0 531.3l1.3 -4.2" stroke="#0a1c78" stroke-width="2" opacity="0.6"/>
<path d="M338.0 532.5l1.3 -4.2" stroke="#3058f0" stroke-width="2" opacity="0.6"/>
<path d="M342.0 533.8l1.3 -4.2" stroke="#0a1c78" stroke-width="2" opacity="0.6"/>
<path d="M346.0 535.0l1.3 -4.2" stroke="#3058f0" stroke-width="2" opacity="0.6"/>
<path d="M350.0 536.3l1.3 -4.2" stroke="#0a1c78" stroke-width="2" opacity="0.6"/>
<path d="M354.0 537.6l1.3 -4.2" stroke="#3058f0" stroke-width="2" opacity="0.6"/>
<path d="M358.0 538.8l1.3 -4.2" stroke="#0a1c78" stroke-width="2" opacity="0.6"/>
<path d="M362.0 540.1l1.3 -4.2" stroke="#3058f0" stroke-width="2" opacity="0.6"/>
<path d="M366.0 541.4l1.3 -4.2" stroke="#0a1c78" stroke-width="2" opacity="0.6"/>
<path d="M370.0 542.6l1.3 -4.2" stroke="#3058f0" stroke-width="2" opacity="0.6"/>
<path d="M374.0 543.9l1.3 -4.2" stroke="#0a1c78" stroke-width="2" opacity="0.6"/>
<path d="M378.0 545.2l1.3 -4.2" stroke="#3058f0" stroke-width="2" opacity="0.6"/>
<path d="M382.0 546.4l1.3 -4.2" stroke="#0a1c78" stroke-width="2" opacity="0.6"/>
<path d="M386.0 547.7l1.3 -4.2" stroke="#3058f0" stroke-width="2" opacity="0.6"/>
<path d="M390.0 549.0l1.3 -4.2" stroke="#0a1c78" stroke-width="2" opacity="0.6"/>
<path d="M394.0 550.2l1.3 -4.2" stroke="#3058f0" stroke-width="2" opacity="0.6"/>
<path d="M398.0 551.5l1.3 -4.2" stroke="#0a1c78" stroke-width="2" opacity="0.6"/>
<path d="M402.0 552.8l1.3 -4.2" stroke="#3058f0" stroke-width="2" opacity="0.6"/>
<path d="M406.0 554.0l1.3 -4.2" stroke="#0a1c78" stroke-width="2" opacity="0.6"/>
<path d="M410.0 555.3l1.3 -4.2" stroke="#3058f0" stroke-width="2" opacity="0.6"/>
<path d="M414.0 556.6l1.3 -4.2" stroke="#0a1c78" stroke-width="2" opacity="0.6"/>
<path d="M418.0 557.8l1.3 -4.2" stroke="#3058f0" stroke-width="2" opacity="0.6"/>
<path d="M422.0 559.1l1.3 -4.2" stroke="#0a1c78" stroke-width="2" opacity="0.6"/>
<path d="M426.0 560.4l1.3 -4.2" stroke="#3058f0" stroke-width="2" opacity="0.6"/>
<path d="M430.0 561.6l1.3 -4.2" stroke="#0a1c78" stroke-width="2" opacity="0.6"/>
<path d="M434.0 562.9l1.3 -4.2" stroke="#3058f0" stroke-width="2" opacity="0.6"/>
<path d="M438.0 564.2l1.3 -4.2" stroke="#0a1c78" stroke-width="2" opacity="0.6"/>
<path d="M442.0 565.4l1.3 -4.2" stroke="#3058f0" stroke-width="2" opacity="0.6"/>
<path d="M446.0 566.7l1.3 -4.2" stroke="#0a1c78" stroke-width="2" opacity="0.6"/>
<path d="M450.0 568.0l1.3 -4.2" stroke="#3058f0" stroke-width="2" opacity="0.6"/>
<path d="M454.0 569.2l1.3 -4.2" stroke="#0a1c78" stroke-width="2" opacity="0.6"/>
<path d="M458.0 570.5l1.3 -4.2" stroke="#3058f0" stroke-width="2" opacity="0.6"/>
<path d="M462.0 571.8l1.3 -4.2" stroke="#0a1c78" stroke-width="2" opacity="0.6"/>
<path d="M466.0 573.0l1.3 -4.2" stroke="#3058f0" stroke-width="2" opacity="0.6"/>
<path d="M470.0 574.3l1.3 -4.2" stroke="#0a1c78" stroke-width="2" opacity="0.6"/>
<path d="M474.0 575.6l1.3 -4.2" stroke="#3058f0" stroke-width="2" opacity="0.6"/>
<path d="M478.0 576.8l1.3 -4.2" stroke="#0a1c78" stroke-width="2" opacity="0.6"/>
<path d="M482.0 578.1l1.3 -4.2" stroke="#3058f0" stroke-width="2" opacity="0.6"/>
<path d="M486.0 579.4l1.3 -4.2" stroke="#0a1c78" stroke-width="2" opacity="0.6"/>
<path d="M490.0 580.6l1.3 -4.2" stroke="#3058f0" stroke-width="2" opacity="0.6"/>
<path d="M494.0 581.9l1.3 -4.2" stroke="#0a1c78" stroke-width="2" opacity="0.6"/>
<path d="M239 501L499 583.3" stroke="#0a1560" stroke-width="1.6" fill="none" opacity="0.8"/>
</g>
<path d="M229.5 452 Q229.5 447 234 445 L283 421.5 L291 424 L309 436 L309 481 L292 494.5 L243 493.5 L240 501.5 L236 512.5 Q230 512 230 506 Z" fill="#141619"/>
<path d="M229.8 452 Q229.8 447 234 445 L283 421.5 L285.5 424.5 L238 447.6 Q233.5 449.5 233.3 454 L233.3 508 L230.3 506 Z" fill="#2b2e33"/>
<polygon points="253.0,448.0 290.0,430.0 309.0,436.0 309.0,480.0 290.0,493.0 253.0,490.0" fill="#0d0e10" />
<ellipse cx="275" cy="460" rx="17" ry="21" fill="#17191c" transform="rotate(-20 275 460)"/>
<ellipse cx="277" cy="460" rx="12" ry="16" fill="#0a0b0d" transform="rotate(-20 277 460)"/>
<circle cx="292.5" cy="428.5" r="1.6" fill="#050506"/><circle cx="307" cy="434" r="1.6" fill="#050506"/>
<path d="M253 448L290 430L309 436" stroke="#33363b" stroke-width="1.2" fill="none"/>
<path d="M262 452Q270 440 286 437" stroke="#2c2f34" stroke-width="2.2" fill="none"/>
<path d="M258 470Q262 488 280 488" stroke="#202327" stroke-width="2" fill="none"/>
<g id="components">
<rect x="365.0" y="471.5" width="12.5" height="5.2" rx="2.4" fill="#e07a26" transform="rotate(-17 365.0 471.5)"/>
<rect x="366.0" y="472.0" width="10.5" height="1.6" rx="0.8" fill="#fff" opacity="0.28" transform="rotate(-17 365.0 471.5)"/>
<rect x="354.0" y="471.0" width="8.0" height="5.0" rx="2.3" fill="#2468d8" transform="rotate(-25 354.0 471.0)"/>
<rect x="355.0" y="471.5" width="6.0" height="1.5" rx="0.8" fill="#fff" opacity="0.28" transform="rotate(-25 354.0 471.0)"/>
<rect x="338.0" y="516.0" width="16.0" height="5.8" rx="2.6" fill="#e88a2a" transform="rotate(17 338.0 516.0)"/>
<rect x="339.0" y="516.5" width="14.0" height="1.7" rx="0.9" fill="#fff" opacity="0.28" transform="rotate(17 338.0 516.0)"/>
<rect x="345.0" y="511.0" width="15.0" height="5.6" rx="2.5" fill="#2b78e6" transform="rotate(17 345.0 511.0)"/>
<rect x="346.0" y="511.5" width="13.0" height="1.7" rx="0.8" fill="#fff" opacity="0.28" transform="rotate(17 345.0 511.0)"/>
<rect x="354.5" y="503.5" width="11.0" height="5.0" rx="2.3" fill="#e07a26" transform="rotate(-17 354.5 503.5)"/>
<rect x="355.5" y="504.0" width="9.0" height="1.5" rx="0.8" fill="#fff" opacity="0.28" transform="rotate(-17 354.5 503.5)"/>
<rect x="363.0" y="506.0" width="12.0" height="6.0" rx="2.7" fill="#2b78e6" transform="rotate(-17 363.0 506.0)"/>
<rect x="364.0" y="506.5" width="10.0" height="1.8" rx="0.9" fill="#fff" opacity="0.28" transform="rotate(-17 363.0 506.0)"/>
<rect x="358.0" y="500.0" width="8.0" height="5.0" rx="2.3" fill="#e07a26" transform="rotate(-17 358.0 500.0)"/>
<rect x="359.0" y="500.5" width="6.0" height="1.5" rx="0.8" fill="#fff" opacity="0.28" transform="rotate(-17 358.0 500.0)"/>
<rect x="446.0" y="492.0" width="9.0" height="4.0" fill="#0e1016" transform="rotate(17 446.0 492.0)"/>
<rect x="452.0" y="498.0" width="10.0" height="4.0" fill="#0e1016" transform="rotate(17 452.0 498.0)"/>
<rect x="458.0" y="494.0" width="8.0" height="3.5" fill="#0e1016" transform="rotate(17 458.0 494.0)"/>
<rect x="446.0" y="503.0" width="7.0" height="3.0" fill="#0e1016" transform="rotate(17 446.0 503.0)"/>
<rect x="372.0" y="483.0" width="8.0" height="4.0" fill="#0e1016" transform="rotate(17 372.0 483.0)"/>
<rect x="376.0" y="496.0" width="9.0" height="4.0" fill="#0e1016" transform="rotate(17 376.0 496.0)"/>
<rect x="379.0" y="508.0" width="7.0" height="3.5" fill="#0e1016" transform="rotate(17 379.0 508.0)"/>
<rect x="440.0" y="512.0" width="8.0" height="3.5" fill="#0e1016" transform="rotate(17 440.0 512.0)"/>
<rect x="450.0" y="520.0" width="7.0" height="3.0" fill="#0e1016" transform="rotate(17 450.0 520.0)"/>
<rect x="436.0" y="524.0" width="6.0" height="3.0" fill="#0e1016" transform="rotate(17 436.0 524.0)"/>
<rect x="480.0" y="508.0" width="8.0" height="3.5" fill="#0e1016" transform="rotate(17 480.0 508.0)"/>
<rect x="484.0" y="500.0" width="6.0" height="3.0" fill="#0e1016" transform="rotate(17 484.0 500.0)"/>
<polygon points="384.0,531.5 404.0,537.5 407.0,534.0 387.0,528.0" fill="#c5c9d2" />
<polygon points="385.0,530.0 405.0,536.2 406.5,533.0 386.5,527.0" fill="#111216" />
<polygon points="385.0,533.0 405.0,539.2 405.0,537.0 385.0,531.0" fill="#9095a0" />
<polygon points="428.0,540.0 439.0,535.5 444.5,539.0 444.5,544.5 434.0,549.5 428.0,546.0" fill="#0d0e11" />
<polygon points="428.0,540.0 439.0,535.5 444.5,539.0 434.0,543.8" fill="#23252a" />
<polygon points="294.1,449.9 312.5,443.2 326.4,448.1 326.4,461.0 307.2,468.0 294.1,463.0" fill="#8d929b" />
<polygon points="294.1,449.9 312.5,443.2 326.4,448.1 307.2,455.2" fill="#f2f4f7" />
<path d="M300.6 451.6L311.4 447.4M305.6 453.6L317 449.2" stroke="#2a2c31" stroke-width="2.2"/>
<polygon points="307.2,455.2 326.4,448.1 326.4,461.0 307.2,468.0" fill="#b9bdc5" />
<path d="M318.6 441.6V461.0A7.6 3.3 0 0 0 333.8 461.0V441.6Z" fill="url(#gCyl)"/>
<ellipse cx="326.2" cy="441.6" rx="7.6" ry="3.3" fill="#c5c9d0"/>
<ellipse cx="326.2" cy="441.6" rx="4" ry="1.6" fill="#8d929b"/>
<rect x="330.5" y="444" width="3.2" height="17" fill="#b9a21c" opacity="0.9"/>
<polygon points="338.7,453.7 355.4,445.9 357.1,462.5 347.5,470.4 340.5,467.7" fill="#b9b827" />
<polygon points="340.5,455.0 354.0,448.5 354.6,452.5 341.0,459.0" fill="#e6e45a" />
<polygon points="343.0,461.0 351.0,457.0 351.6,463.0 346.8,466.6 343.4,465.2" fill="#8f9016" />
<polygon points="273.1,462.5 292.4,454.6 307.2,459.9 307.2,473.0 290.6,481.0 273.1,479.1" fill="#7d828b" />
<polygon points="273.1,462.5 292.4,454.6 307.2,459.9 290.6,468.6" fill="#eef0f4" />
<path d="M280.2 461.2L293.4 456.2M285.6 463.6L300 458.2" stroke="#2a2c31" stroke-width="2.3"/>
<polygon points="273.1,462.5 290.6,468.6 290.6,481.0 273.1,479.1" fill="#c4c8cf" />
<polygon points="290.6,468.6 307.2,459.9 307.2,473.0 290.6,481.0" fill="#8b9099" />
<polygon points="274.0,470.0 287.0,474.0 287.0,481.0 274.0,479.0" fill="#d4d7dd" />
<circle cx="280.3" cy="475" r="2" fill="#4a4d55"/><circle cx="280.3" cy="475" r="0.9" fill="#c8ccd3"/>
<polygon points="273.0,480.0 287.0,482.0 287.0,494.0 273.0,491.0" fill="#1b1c20" />
<path d="M277 492l-0.5 9M280.5 493l-0.6 10M284 493.5l-0.5 8" stroke="#c8ccd3" stroke-width="0.9" fill="none"/>
<polygon points="301.0,497.0 328.5,501.0 328.5,508.2 319.5,512.6 303.7,509.0" fill="#c9a2a4" />
<polygon points="302.6,498.0 327.0,501.6 327.0,507.0 319.0,510.8 304.6,507.6" fill="#17181b" />
<path d="M300.6 474.5Q300.6 471.5 304 469.6L308.5 467.3L327 466.2Q331 466.6 331.6 470.5L331.6 481L323 488L303.7 484.5L300.6 481Z" fill="url(#gCopper)"/>
<path d="M301.4 475Q301.4 472.4 304 471.6L316 470.5Q319.3 470.6 319.3 473.3L319.3 483Q319 486.2 316 485.8L304.2 483.6Q301.4 483 301.4 480.5Z" fill="#4a3128"/>
<path d="M303 476Q303 473.8 305 473.5L314.5 472.6Q316.8 472.7 316.8 474.6L316.8 481.8Q316.6 483.8 314.5 483.6L305.2 481.9Q303 481.4 303 479.6Z" fill="#30201a"/>
<polygon points="321.0,465.0 334.0,464.2 339.0,469.5 337.2,478.5 331.6,481.0 331.6,470.5 328.4,466.3" fill="#c9b51e" />
<polygon points="324.0,465.5 333.5,465.0 336.8,468.8 331.8,469.6 329.0,466.5" fill="#e8d84a" />
<polygon points="288.9,480.5 300.3,480.0 303.7,484.5 323.0,488.0 338.7,478.3 350.2,474.7 350.2,487.5 345.7,497.6 323.0,506.0 288.9,492.4" fill="#141518" />
<polygon points="288.9,480.5 300.3,480.0 303.7,484.5 323.0,488.0 338.7,478.3 350.2,474.7 350.2,476.6 339.0,480.6 323.0,490.6 303.0,487.0 299.5,482.6 288.9,483.0" fill="#2b2d31" />
<polygon points="388.5,480.8 403.5,473.4 405.0,475.0 405.0,482.0 394.0,487.5" fill="url(#gSilver)" />
<polygon points="403.5,481.5 418.5,479.0 419.5,496.0 405.0,503.0" fill="#141518" />
<polygon points="403.5,472.5 416.2,466.5 418.5,469.5 418.5,479.2 406.5,485.2 403.5,481.5" fill="url(#gSilver)" />
<ellipse cx="411.7" cy="474.7" rx="2" ry="1.6" fill="#3a3d44"/>
<polygon points="427.5,485.0 441.7,482.0 443.2,499.5 429.7,505.5" fill="#141518" />
<polygon points="427.5,476.2 438.7,469.5 441.7,472.5 441.7,482.2 430.5,487.5 427.5,484.5" fill="url(#gSilver)" />
<ellipse cx="434.2" cy="477.7" rx="2" ry="1.6" fill="#3a3d44"/>
<polygon points="409.5,495.0 426.0,489.7 426.7,507.7 411.7,516.0" fill="#141518" />
<polygon points="410.2,486.0 423.0,479.2 425.2,482.2 425.2,490.5 412.5,496.5 410.2,493.5" fill="url(#gSilver)" />
<ellipse cx="419.2" cy="487.5" rx="2" ry="1.6" fill="#3a3d44"/>
<path d="M386.3 487.2V521.5A10.3 4.2 0 0 0 406.9 521.5V487.2Z" fill="url(#gCyl)"/>
<ellipse cx="396.6" cy="487.2" rx="10.3" ry="4.2" fill="#3a3c42"/>
<ellipse cx="396.6" cy="487.2" rx="7.5" ry="2.8" fill="#5c5f66"/>
<path d="M401.5 490.6Q405.6 489.6 406.9 487.6V521.5Q405.8 524 401.5 525.2Z" fill="#d9c21c"/>
<path d="M401.5 503h5.4v3.2h-5.4z" fill="#222" opacity="0.8"/>
<path d="M389 494v22M392 496v24" stroke="#bfa21a" stroke-width="1.2" stroke-dasharray="2.5 2" opacity="0.85"/>
<polygon points="416.2,513.7 426.0,510.0 428.2,512.2 428.2,520.5 419.2,525.0 416.2,522.0" fill="#c8481c" />
<polygon points="416.2,513.7 426.0,510.0 428.2,512.2 418.6,516.2" fill="#ef6a36" />
<rect x="467.4" y="497" width="8.8" height="24" rx="2" fill="url(#gStand)"/>
<ellipse cx="471.8" cy="497" rx="4.4" ry="2.2" fill="#dfe3ec"/><ellipse cx="471.8" cy="497" rx="2.2" ry="1.1" fill="#30343c"/>
<path d="M467.4 510h8.8" stroke="#5c6478" stroke-width="0.8"/>
<polygon points="412.0,527.0 418.0,525.0 418.0,538.0 412.0,540.0" fill="#3f66e8" opacity="0.75"/>
<polygon points="430.0,521.0 436.0,519.0 436.0,531.0 430.0,533.0" fill="#4a72f0" opacity="0.65"/>
<path d="M500.9 491.5V499.0A4.6 2.0 0 0 0 510.1 499.0V491.5Z" fill="url(#gCyl)"/>
<ellipse cx="505.5" cy="491.5" rx="4.6" ry="2.0" fill="#8b9099"/>
<g transform="rotate(-8 515.4 502.5)">
<ellipse cx="515.4" cy="502.5" rx="13.6" ry="9.2" fill="#4a3228"/>
<path d="M520.3 502.5L529.0 502.5" stroke="#9a7860" stroke-width="0.9"/>
<path d="M520.2 503.1L528.8 504.2" stroke="#2c1c16" stroke-width="0.9"/>
<path d="M520.0 503.7L528.1 505.8" stroke="#6a4c3c" stroke-width="0.9"/>
<path d="M519.6 504.2L527.0 507.3" stroke="#2c1c16" stroke-width="0.9"/>
<path d="M519.0 504.7L525.5 508.7" stroke="#6a4c3c" stroke-width="0.9"/>
<path d="M518.4 505.1L523.6 509.8" stroke="#2c1c16" stroke-width="0.9"/>
<path d="M517.6 505.5L521.5 510.7" stroke="#6a4c3c" stroke-width="0.9"/>
<path d="M516.7 505.7L519.1 511.3" stroke="#2c1c16" stroke-width="0.9"/>
<path d="M515.9 505.8L516.7 511.7" stroke="#6a4c3c" stroke-width="0.9"/>
<path d="M514.9 505.8L514.1 511.7" stroke="#2c1c16" stroke-width="0.9"/>
<path d="M514.1 505.7L511.7 511.3" stroke="#6a4c3c" stroke-width="0.9"/>
<path d="M513.2 505.5L509.3 510.7" stroke="#2c1c16" stroke-width="0.9"/>
<path d="M512.4 505.1L507.2 509.8" stroke="#6a4c3c" stroke-width="0.9"/>
<path d="M511.8 504.7L505.3 508.7" stroke="#2c1c16" stroke-width="0.9"/>
<path d="M511.2 504.2L503.8 507.3" stroke="#6a4c3c" stroke-width="0.9"/>
<path d="M510.8 503.7L502.7 505.8" stroke="#2c1c16" stroke-width="0.9"/>
<path d="M510.6 503.1L502.0 504.2" stroke="#9a7860" stroke-width="0.9"/>
<path d="M510.5 502.5L501.8 502.5" stroke="#2c1c16" stroke-width="0.9"/>
<path d="M510.6 501.9L502.0 500.8" stroke="#9a7860" stroke-width="0.9"/>
<path d="M510.8 501.3L502.7 499.2" stroke="#2c1c16" stroke-width="0.9"/>
<path d="M511.2 500.8L503.8 497.7" stroke="#9a7860" stroke-width="0.9"/>
<path d="M511.8 500.3L505.3 496.3" stroke="#2c1c16" stroke-width="0.9"/>
<path d="M512.4 499.9L507.2 495.2" stroke="#9a7860" stroke-width="0.9"/>
<path d="M513.2 499.5L509.3 494.3" stroke="#2c1c16" stroke-width="0.9"/>
<path d="M514.1 499.3L511.7 493.7" stroke="#9a7860" stroke-width="0.9"/>
<path d="M514.9 499.2L514.1 493.3" stroke="#2c1c16" stroke-width="0.9"/>
<path d="M515.9 499.2L516.7 493.3" stroke="#9a7860" stroke-width="0.9"/>
<path d="M516.7 499.3L519.1 493.7" stroke="#2c1c16" stroke-width="0.9"/>
<path d="M517.6 499.5L521.5 494.3" stroke="#9a7860" stroke-width="0.9"/>
<path d="M518.4 499.9L523.6 495.2" stroke="#2c1c16" stroke-width="0.9"/>
<path d="M519.0 500.3L525.5 496.3" stroke="#9a7860" stroke-width="0.9"/>
<path d="M519.6 500.8L527.0 497.7" stroke="#2c1c16" stroke-width="0.9"/>
<path d="M520.0 501.3L528.1 499.2" stroke="#9a7860" stroke-width="0.9"/>
<path d="M520.2 501.9L528.8 500.8" stroke="#2c1c16" stroke-width="0.9"/>
<ellipse cx="515.4" cy="501.4" rx="9.8" ry="6.4" fill="none" stroke="#8a6650" stroke-width="1.6" opacity="0.45"/>
<ellipse cx="515.4" cy="503.2" rx="4.1" ry="3.3" fill="#9aa6c8"/>
</g>
<polygon points="528.0,504.5 537.0,501.3 538.0,505.0 529.0,508.4" fill="#c9cdd5" />
<polygon points="516.0,513.5 525.5,510.3 526.5,514.5 517.0,517.8" fill="#d4d7de" />
<g transform="rotate(-8 499.0 515.2)">
<ellipse cx="499.0" cy="515.2" rx="14.4" ry="11.0" fill="#4a3228"/>
<path d="M504.2 515.2L513.4 515.2" stroke="#9a7860" stroke-width="0.9"/>
<path d="M504.1 515.9L513.2 517.2" stroke="#2c1c16" stroke-width="0.9"/>
<path d="M503.8 516.6L512.4 519.2" stroke="#6a4c3c" stroke-width="0.9"/>
<path d="M503.4 517.3L511.2 521.0" stroke="#2c1c16" stroke-width="0.9"/>
<path d="M502.8 517.9L509.6 522.6" stroke="#6a4c3c" stroke-width="0.9"/>
<path d="M502.1 518.4L507.7 524.0" stroke="#2c1c16" stroke-width="0.9"/>
<path d="M501.3 518.7L505.4 525.0" stroke="#6a4c3c" stroke-width="0.9"/>
<path d="M500.4 519.0L502.9 525.8" stroke="#2c1c16" stroke-width="0.9"/>
<path d="M499.5 519.1L500.3 526.2" stroke="#6a4c3c" stroke-width="0.9"/>
<path d="M498.5 519.1L497.7 526.2" stroke="#2c1c16" stroke-width="0.9"/>
<path d="M497.6 519.0L495.1 525.8" stroke="#6a4c3c" stroke-width="0.9"/>
<path d="M496.7 518.7L492.6 525.0" stroke="#2c1c16" stroke-width="0.9"/>
<path d="M495.9 518.4L490.3 524.0" stroke="#6a4c3c" stroke-width="0.9"/>
<path d="M495.2 517.9L488.4 522.6" stroke="#2c1c16" stroke-width="0.9"/>
<path d="M494.6 517.3L486.8 521.0" stroke="#6a4c3c" stroke-width="0.9"/>
<path d="M494.2 516.6L485.6 519.2" stroke="#2c1c16" stroke-width="0.9"/>
<path d="M493.9 515.9L484.8 517.2" stroke="#9a7860" stroke-width="0.9"/>
<path d="M493.8 515.2L484.6 515.2" stroke="#2c1c16" stroke-width="0.9"/>
<path d="M493.9 514.5L484.8 513.2" stroke="#9a7860" stroke-width="0.9"/>
<path d="M494.2 513.8L485.6 511.2" stroke="#2c1c16" stroke-width="0.9"/>
<path d="M494.6 513.1L486.8 509.4" stroke="#9a7860" stroke-width="0.9"/>
<path d="M495.2 512.5L488.4 507.8" stroke="#2c1c16" stroke-width="0.9"/>
<path d="M495.9 512.0L490.3 506.4" stroke="#9a7860" stroke-width="0.9"/>
<path d="M496.7 511.7L492.6 505.4" stroke="#2c1c16" stroke-width="0.9"/>
<path d="M497.6 511.4L495.1 504.6" stroke="#9a7860" stroke-width="0.9"/>
<path d="M498.5 511.3L497.7 504.2" stroke="#2c1c16" stroke-width="0.9"/>
<path d="M499.5 511.3L500.3 504.2" stroke="#9a7860" stroke-width="0.9"/>
<path d="M500.4 511.4L502.9 504.6" stroke="#2c1c16" stroke-width="0.9"/>
<path d="M501.3 511.7L505.4 505.4" stroke="#9a7860" stroke-width="0.9"/>
<path d="M502.1 512.0L507.7 506.4" stroke="#2c1c16" stroke-width="0.9"/>
<path d="M502.8 512.5L509.6 507.8" stroke="#9a7860" stroke-width="0.9"/>
<path d="M503.4 513.1L511.2 509.4" stroke="#2c1c16" stroke-width="0.9"/>
<path d="M503.8 513.8L512.4 511.2" stroke="#9a7860" stroke-width="0.9"/>
<path d="M504.1 514.5L513.2 513.2" stroke="#2c1c16" stroke-width="0.9"/>
<ellipse cx="499.0" cy="513.9" rx="10.4" ry="7.7" fill="none" stroke="#8a6650" stroke-width="1.6" opacity="0.45"/>
<ellipse cx="499.0" cy="516.1" rx="4.3" ry="4.0" fill="#2448c8"/>
</g>
<polygon points="504.0,521.5 511.0,519.0 512.0,523.8 505.0,526.4" fill="#c9cdd5" />
<path d="M492.7 521.0V534.0A4.3 1.9 0 0 0 501.3 534.0V521.0Z" fill="url(#gCyl)"/>
<ellipse cx="497.0" cy="521.0" rx="4.3" ry="1.9" fill="#9a9fa8"/>
<rect x="498.8" y="522" width="2.2" height="12" fill="#c9b01c"/>
<path d="M480.9 529.5V548.0A4.6 2.0 0 0 0 490.1 548.0V529.5Z" fill="url(#gCyl)"/>
<ellipse cx="485.5" cy="529.5" rx="4.6" ry="2.0" fill="#9a9fa8"/>
<rect x="487.6" y="531" width="2.3" height="16" fill="#c9b01c"/>
<g transform="rotate(-8 467.6 539.6)">
<ellipse cx="467.6" cy="539.6" rx="14.8" ry="14.0" fill="#4a3228"/>
<path d="M472.9 539.6L482.4 539.6" stroke="#9a7860" stroke-width="0.9"/>
<path d="M472.8 540.5L482.1 542.2" stroke="#2c1c16" stroke-width="0.9"/>
<path d="M472.6 541.4L481.4 544.7" stroke="#6a4c3c" stroke-width="0.9"/>
<path d="M472.1 542.3L480.2 547.0" stroke="#2c1c16" stroke-width="0.9"/>
<path d="M471.5 543.0L478.5 549.0" stroke="#6a4c3c" stroke-width="0.9"/>
<path d="M470.8 543.6L476.5 550.8" stroke="#2c1c16" stroke-width="0.9"/>
<path d="M470.0 544.1L474.2 552.1" stroke="#6a4c3c" stroke-width="0.9"/>
<path d="M469.1 544.4L471.7 553.1" stroke="#2c1c16" stroke-width="0.9"/>
<path d="M468.1 544.6L469.0 553.5" stroke="#6a4c3c" stroke-width="0.9"/>
<path d="M467.1 544.6L466.2 553.5" stroke="#2c1c16" stroke-width="0.9"/>
<path d="M466.1 544.4L463.5 553.1" stroke="#6a4c3c" stroke-width="0.9"/>
<path d="M465.2 544.1L461.0 552.1" stroke="#2c1c16" stroke-width="0.9"/>
<path d="M464.4 543.6L458.7 550.8" stroke="#6a4c3c" stroke-width="0.9"/>
<path d="M463.7 543.0L456.7 549.0" stroke="#2c1c16" stroke-width="0.9"/>
<path d="M463.1 542.3L455.0 547.0" stroke="#6a4c3c" stroke-width="0.9"/>
<path d="M462.6 541.4L453.8 544.7" stroke="#2c1c16" stroke-width="0.9"/>
<path d="M462.4 540.5L453.1 542.2" stroke="#9a7860" stroke-width="0.9"/>
<path d="M462.3 539.6L452.8 539.6" stroke="#2c1c16" stroke-width="0.9"/>
<path d="M462.4 538.7L453.1 537.0" stroke="#9a7860" stroke-width="0.9"/>
<path d="M462.6 537.8L453.8 534.5" stroke="#2c1c16" stroke-width="0.9"/>
<path d="M463.1 536.9L455.0 532.2" stroke="#9a7860" stroke-width="0.9"/>
<path d="M463.7 536.2L456.7 530.2" stroke="#2c1c16" stroke-width="0.9"/>
<path d="M464.4 535.6L458.7 528.4" stroke="#9a7860" stroke-width="0.9"/>
<path d="M465.2 535.1L461.0 527.1" stroke="#2c1c16" stroke-width="0.9"/>
<path d="M466.1 534.8L463.5 526.1" stroke="#9a7860" stroke-width="0.9"/>
<path d="M467.1 534.6L466.2 525.7" stroke="#2c1c16" stroke-width="0.9"/>
<path d="M468.1 534.6L469.0 525.7" stroke="#9a7860" stroke-width="0.9"/>
<path d="M469.1 534.8L471.7 526.1" stroke="#2c1c16" stroke-width="0.9"/>
<path d="M470.0 535.1L474.2 527.1" stroke="#9a7860" stroke-width="0.9"/>
<path d="M470.8 535.6L476.5 528.4" stroke="#2c1c16" stroke-width="0.9"/>
<path d="M471.5 536.2L478.5 530.2" stroke="#9a7860" stroke-width="0.9"/>
<path d="M472.1 536.9L480.2 532.2" stroke="#2c1c16" stroke-width="0.9"/>
<path d="M472.6 537.8L481.4 534.5" stroke="#9a7860" stroke-width="0.9"/>
<path d="M472.8 538.7L482.1 537.0" stroke="#2c1c16" stroke-width="0.9"/>
<ellipse cx="467.6" cy="537.9" rx="10.7" ry="9.8" fill="none" stroke="#8a6650" stroke-width="1.6" opacity="0.45"/>
<ellipse cx="467.6" cy="540.7" rx="4.4" ry="5.0" fill="#241c3c"/>
</g>
<rect x="461.6" y="543" width="8.2" height="20" rx="1.2" fill="#17181b"/>
<rect x="462.6" y="543.6" width="3.4" height="19" fill="#e0c81e"/>
<path d="M466.6 545v16" stroke="#d5bd1c" stroke-width="0.9" stroke-dasharray="2 1.6"/>
</g>
</g>
<g id="railAndPanel">
<polygon points="232.3,501.8 497.0,583.0 499.5,600.2 234.0,512.4" fill="url(#gRail)" />
<polygon points="232.3,499.8 497.0,582.4 497.6,586.4 232.8,503.0" fill="url(#gRailTop)" />
<path d="M233 512.4L499.5 600.2" stroke="#24272b" stroke-width="1.2" fill="none"/>
<path d="M356 541.3l1.2 11.8" stroke="#3a3e44" stroke-width="0.8"/>
<polygon points="494.6,536.0 499.5,532.0 499.5,598.0 495.4,597.0" fill="#5c6168" />
<path d="M495 536.5L495.6 597" stroke="#8a9098" stroke-width="1"/>
<path id="panelShape" d="M497.6 541 Q497.6 533.5 504 529.6 L580 480.2 Q591.5 474 592.8 485 L592.8 538 Q592.8 545.8 586.5 549.8 L509 600.2 Q498.2 605 497.8 594 Z" fill="#101113"/>
<path d="M499.8 542 Q499.8 535.6 505.4 532.2 L580.6 483.2 Q590 478 591 487 L591 537.4 Q591 543.8 585.6 547.4 L509 597.4 Q500.4 601.4 500 593 Z" fill="url(#gPanel)" stroke="#5d6168" stroke-width="0.9"/>
<path d="M503.5 540.5 L519.5 530 L519.5 586.6 L503.5 597Z" fill="#2a2d32" opacity="0.8"/>
<path d="M572.5 491 L589.4 480.6 L589.4 545 L572.5 556.6Z" fill="#2e3136" opacity="0.8"/>
<g fill="#07080a">
<circle cx="504.6" cy="539.8" r="1.15"/>
<circle cx="504.6" cy="543.0" r="1.15"/>
<circle cx="504.6" cy="546.3" r="1.15"/>
<circle cx="504.6" cy="549.6" r="1.15"/>
<circle cx="504.6" cy="552.8" r="1.15"/>
<circle cx="504.6" cy="556.1" r="1.15"/>
<circle cx="504.6" cy="559.4" r="1.15"/>
<circle cx="504.6" cy="562.6" r="1.15"/>
<circle cx="504.6" cy="565.9" r="1.15"/>
<circle cx="504.6" cy="569.2" r="1.15"/>
<circle cx="504.6" cy="572.4" r="1.15"/>
<circle cx="504.6" cy="575.7" r="1.15"/>
<circle cx="504.6" cy="579.0" r="1.15"/>
<circle cx="504.6" cy="582.2" r="1.15"/>
<circle cx="504.6" cy="585.5" r="1.15"/>
<circle cx="504.6" cy="588.8" r="1.15"/>
<circle cx="507.6" cy="537.9" r="1.15"/>
<circle cx="507.6" cy="541.2" r="1.15"/>
<circle cx="507.6" cy="544.5" r="1.15"/>
<circle cx="507.6" cy="547.8" r="1.15"/>
<circle cx="507.6" cy="551.0" r="1.15"/>
<circle cx="507.6" cy="554.3" r="1.15"/>
<circle cx="507.6" cy="557.6" r="1.15"/>
<circle cx="507.6" cy="560.9" r="1.15"/>
<circle cx="507.6" cy="564.1" r="1.15"/>
<circle cx="507.6" cy="567.4" r="1.15"/>
<circle cx="507.6" cy="570.7" r="1.15"/>
<circle cx="507.6" cy="573.9" r="1.15"/>
<circle cx="507.6" cy="577.2" r="1.15"/>
<circle cx="507.6" cy="580.5" r="1.15"/>
<circle cx="507.6" cy="583.8" r="1.15"/>
<circle cx="507.6" cy="587.0" r="1.15"/>
<circle cx="510.7" cy="536.1" r="1.15"/>
<circle cx="510.7" cy="539.4" r="1.15"/>
<circle cx="510.7" cy="542.7" r="1.15"/>
<circle cx="510.7" cy="546.0" r="1.15"/>
<circle cx="510.7" cy="549.2" r="1.15"/>
<circle cx="510.7" cy="552.5" r="1.15"/>
<circle cx="510.7" cy="555.8" r="1.15"/>
<circle cx="510.7" cy="559.1" r="1.15"/>
<circle cx="510.7" cy="562.4" r="1.15"/>
<circle cx="510.7" cy="565.6" r="1.15"/>
<circle cx="510.7" cy="568.9" r="1.15"/>
<circle cx="510.7" cy="572.2" r="1.15"/>
<circle cx="510.7" cy="575.5" r="1.15"/>
<circle cx="510.7" cy="578.7" r="1.15"/>
<circle cx="510.7" cy="582.0" r="1.15"/>
<circle cx="510.7" cy="585.3" r="1.15"/>
<circle cx="513.7" cy="534.3" r="1.15"/>
<circle cx="513.7" cy="537.6" r="1.15"/>
<circle cx="513.7" cy="540.9" r="1.15"/>
<circle cx="513.7" cy="544.2" r="1.15"/>
<circle cx="513.7" cy="547.4" r="1.15"/>
<circle cx="513.7" cy="550.7" r="1.15"/>
<circle cx="513.7" cy="554.0" r="1.15"/>
<circle cx="513.7" cy="557.3" r="1.15"/>
<circle cx="513.7" cy="560.6" r="1.15"/>
<circle cx="513.7" cy="563.9" r="1.15"/>
<circle cx="513.7" cy="567.1" r="1.15"/>
<circle cx="513.7" cy="570.4" r="1.15"/>
<circle cx="513.7" cy="573.7" r="1.15"/>
<circle cx="513.7" cy="577.0" r="1.15"/>
<circle cx="513.7" cy="580.3" r="1.15"/>
<circle cx="513.7" cy="583.6" r="1.15"/>
<circle cx="516.7" cy="532.5" r="1.15"/>
<circle cx="516.7" cy="535.8" r="1.15"/>
<circle cx="516.7" cy="539.1" r="1.15"/>
<circle cx="516.7" cy="542.3" r="1.15"/>
<circle cx="516.7" cy="545.6" r="1.15"/>
<circle cx="516.7" cy="548.9" r="1.15"/>
<circle cx="516.7" cy="552.2" r="1.15"/>
<circle cx="516.7" cy="555.5" r="1.15"/>
<circle cx="516.7" cy="558.8" r="1.15"/>
<circle cx="516.7" cy="562.1" r="1.15"/>
<circle cx="516.7" cy="565.4" r="1.15"/>
<circle cx="516.7" cy="568.7" r="1.15"/>
<circle cx="516.7" cy="572.0" r="1.15"/>
<circle cx="516.7" cy="575.3" r="1.15"/>
<circle cx="516.7" cy="578.6" r="1.15"/>
<circle cx="516.7" cy="581.8" r="1.15"/>
<circle cx="519.7" cy="530.7" r="1.15"/>
<circle cx="519.7" cy="533.9" r="1.15"/>
<circle cx="519.7" cy="537.2" r="1.15"/>
<circle cx="519.7" cy="540.5" r="1.15"/>
<circle cx="519.7" cy="573.5" r="1.15"/>
<circle cx="519.7" cy="576.8" r="1.15"/>
<circle cx="519.7" cy="580.1" r="1.15"/>
<circle cx="572.7" cy="498.7" r="1.15"/>
<circle cx="572.7" cy="502.1" r="1.15"/>
<circle cx="572.7" cy="505.5" r="1.15"/>
<circle cx="572.7" cy="536.2" r="1.15"/>
<circle cx="572.7" cy="539.6" r="1.15"/>
<circle cx="572.7" cy="543.0" r="1.15"/>
<circle cx="572.7" cy="546.4" r="1.15"/>
<circle cx="572.7" cy="549.8" r="1.15"/>
<circle cx="575.7" cy="496.9" r="1.15"/>
<circle cx="575.7" cy="500.3" r="1.15"/>
<circle cx="575.7" cy="503.7" r="1.15"/>
<circle cx="575.7" cy="507.1" r="1.15"/>
<circle cx="575.7" cy="510.6" r="1.15"/>
<circle cx="575.7" cy="514.0" r="1.15"/>
<circle cx="575.7" cy="517.4" r="1.15"/>
<circle cx="575.7" cy="520.8" r="1.15"/>
<circle cx="575.7" cy="524.2" r="1.15"/>
<circle cx="575.7" cy="527.6" r="1.15"/>
<circle cx="575.7" cy="531.0" r="1.15"/>
<circle cx="575.7" cy="534.5" r="1.15"/>
<circle cx="575.7" cy="537.9" r="1.15"/>
<circle cx="575.7" cy="541.3" r="1.15"/>
<circle cx="575.7" cy="544.7" r="1.15"/>
<circle cx="575.7" cy="548.1" r="1.15"/>
<circle cx="578.8" cy="495.1" r="1.15"/>
<circle cx="578.8" cy="498.5" r="1.15"/>
<circle cx="578.8" cy="501.9" r="1.15"/>
<circle cx="578.8" cy="505.3" r="1.15"/>
<circle cx="578.8" cy="508.8" r="1.15"/>
<circle cx="578.8" cy="512.2" r="1.15"/>
<circle cx="578.8" cy="515.6" r="1.15"/>
<circle cx="578.8" cy="519.0" r="1.15"/>
<circle cx="578.8" cy="522.4" r="1.15"/>
<circle cx="578.8" cy="525.9" r="1.15"/>
<circle cx="578.8" cy="529.3" r="1.15"/>
<circle cx="578.8" cy="532.7" r="1.15"/>
<circle cx="578.8" cy="536.1" r="1.15"/>
<circle cx="578.8" cy="539.5" r="1.15"/>
<circle cx="578.8" cy="543.0" r="1.15"/>
<circle cx="578.8" cy="546.4" r="1.15"/>
<circle cx="581.8" cy="493.3" r="1.15"/>
<circle cx="581.8" cy="496.7" r="1.15"/>
<circle cx="581.8" cy="500.1" r="1.15"/>
<circle cx="581.8" cy="503.5" r="1.15"/>
<circle cx="581.8" cy="507.0" r="1.15"/>
<circle cx="581.8" cy="510.4" r="1.15"/>
<circle cx="581.8" cy="513.8" r="1.15"/>
<circle cx="581.8" cy="517.2" r="1.15"/>
<circle cx="581.8" cy="520.7" r="1.15"/>
<circle cx="581.8" cy="524.1" r="1.15"/>
<circle cx="581.8" cy="527.5" r="1.15"/>
<circle cx="581.8" cy="531.0" r="1.15"/>
<circle cx="581.8" cy="534.4" r="1.15"/>
<circle cx="581.8" cy="537.8" r="1.15"/>
<circle cx="581.8" cy="541.2" r="1.15"/>
<circle cx="581.8" cy="544.7" r="1.15"/>
<circle cx="584.8" cy="491.4" r="1.15"/>
<circle cx="584.8" cy="494.9" r="1.15"/>
<circle cx="584.8" cy="498.3" r="1.15"/>
<circle cx="584.8" cy="501.7" r="1.15"/>
<circle cx="584.8" cy="505.2" r="1.15"/>
<circle cx="584.8" cy="508.6" r="1.15"/>
<circle cx="584.8" cy="512.0" r="1.15"/>
<circle cx="584.8" cy="515.5" r="1.15"/>
<circle cx="584.8" cy="518.9" r="1.15"/>
<circle cx="584.8" cy="522.3" r="1.15"/>
<circle cx="584.8" cy="525.8" r="1.15"/>
<circle cx="584.8" cy="529.2" r="1.15"/>
<circle cx="584.8" cy="532.6" r="1.15"/>
<circle cx="584.8" cy="536.1" r="1.15"/>
<circle cx="584.8" cy="539.5" r="1.15"/>
<circle cx="584.8" cy="542.9" r="1.15"/>
<circle cx="587.8" cy="489.6" r="1.15"/>
<circle cx="587.8" cy="493.0" r="1.15"/>
<circle cx="587.8" cy="496.5" r="1.15"/>
<circle cx="587.8" cy="499.9" r="1.15"/>
<circle cx="587.8" cy="503.4" r="1.15"/>
<circle cx="587.8" cy="506.8" r="1.15"/>
<circle cx="587.8" cy="510.2" r="1.15"/>
<circle cx="587.8" cy="513.7" r="1.15"/>
<circle cx="587.8" cy="517.1" r="1.15"/>
<circle cx="587.8" cy="520.6" r="1.15"/>
<circle cx="587.8" cy="524.0" r="1.15"/>
<circle cx="587.8" cy="527.4" r="1.15"/>
<circle cx="587.8" cy="530.9" r="1.15"/>
<circle cx="587.8" cy="534.3" r="1.15"/>
<circle cx="587.8" cy="537.8" r="1.15"/>
<circle cx="587.8" cy="541.2" r="1.15"/>
</g>
<path d="M520.6 548.5V569" stroke="#1fa2ea" stroke-width="3" stroke-linecap="round"/>
<path d="M572.4 512.5V532" stroke="#1fa2ea" stroke-width="3" stroke-linecap="round"/>
<rect x="525.8" y="545.5" width="3.3" height="15.5" rx="1.4" fill="#050608"/>
<polygon points="535.6,533.5 543.0,529.5 543.0,555.5 535.6,559.5" fill="#07080b" />
<polygon points="536.3,537.0 539.0,535.5 539.0,556.0 536.3,557.5" fill="#1b3a96" />
<polygon points="548.0,526.0 555.0,522.0 555.0,546.0 548.0,550.0" fill="#07080b" />
<polygon points="548.7,529.5 551.3,528.0 551.3,546.0 548.7,547.5" fill="#1b3a96" />
<polygon points="560.5,515.5 567.2,511.5 567.2,539.5 560.5,543.5" fill="#07080b" />
<polygon points="561.0,518.0 564.6,516.0 564.6,541.0 561.0,543.0" fill="#2f6cf2" />
<g font-family="Liberation Sans,sans-serif" font-size="3.5" font-weight="700" fill="#f09a2c">
<text transform="matrix(1 -0.58 0 1 523.6 541.5)">PD30W</text>
<text transform="matrix(1 -0.58 0 1 523.6 545)">USB-C</text>
<text transform="matrix(1 -0.58 0 1 535.6 529.6)">QC3.0</text>
<text transform="matrix(1 -0.58 0 1 547.6 518.5)">AUTO</text>
<text transform="matrix(1 -0.58 0 1 547.6 522.2)">5V2.4A</text>
<text transform="matrix(1 -0.58 0 1 560.4 508.5)">AUTO</text>
<text transform="matrix(1 -0.58 0 1 560.4 512.2)">5V2.4A</text>
</g>
</g>
<g id="cover">
<defs><linearGradient id="gBackIn" gradientUnits="userSpaceOnUse" x1="576" y1="0" x2="588" y2="0"><stop offset="0" stop-color="#202327"/><stop offset="0.55" stop-color="#34383e"/><stop offset="1" stop-color="#4a4e55"/></linearGradient><linearGradient id="gDarkBand" gradientUnits="userSpaceOnUse" x1="231" y1="0" x2="510" y2="0"><stop offset="0" stop-color="#4a4f57" stop-opacity="0.85"/><stop offset="0.6" stop-color="#4d525a" stop-opacity="0.7"/><stop offset="1" stop-color="#5a5f67" stop-opacity="0.15"/></linearGradient><clipPath id="clipCover"><path d="M237.5 345.8 L318 305 L586.5 376.2 L513 419.5 Q503 424 501.6 436 L499.6 480.6 L231.4 403.6 L229.3 401 L229.3 358.5 Q229 350.4 237.5 345.8Z"/></clipPath><clipPath id="clipFront"><path d="M230.6 352 L506 420.4 L513 419 L504.6 426 Q502 429 501.6 436 L499.6 480.6 L231 403.2Z"/></clipPath></defs>
<defs><linearGradient id="gInterior" gradientUnits="userSpaceOnUse" x1="540" y1="400" x2="548" y2="452"><stop offset="0" stop-color="#1a1d21"/><stop offset="0.5" stop-color="#1b1e22" stop-opacity="0.85"/><stop offset="1" stop-color="#1c1f23" stop-opacity="0"/></linearGradient><clipPath id="clipTop"><path d="M234 347.5 L318 305 Q322 303 326.5 304.2 L583.5 372 Q589 373.6 586.5 376.2 L513 419.5 Q509.5 421.4 505 420.4 L236 352.5 Q229 350.6 234 347.5 Z"/></clipPath></defs>
<polygon points="509.0,421.0 586.0,376.0 590.0,421.0 586.0,452.0 501.0,470.0" fill="url(#gInterior)" />
<polygon points="576.5,382.0 586.0,376.8 589.2,421.2 578.0,424.0" fill="url(#gBackIn)" />
<path d="M585.6 376 Q589.4 374.2 590.2 378.6 L592.2 420.6 L589 422.4 L586.4 379.6 Z" fill="#8a9099"/>
<path d="M237.5 345.8 L318 305 Q322 303 326.5 304.2 L583.5 372 Q589 373.6 586.5 376.2 L513 419.5 Q506 423 503.5 428 L229.3 358.5 Q229 350.4 237.5 345.8 Z" fill="url(#gTop)"/>
<path d="M229.3 356.5 L503.5 427.6 Q502 430 501.6 436 L499.6 480.6 L231.4 403.6 Q229.6 403 229.5 401Z" fill="url(#gFrontL)"/>
<path d="M229.3 356.5 L503.5 427.6 Q502 430 501.6 436 L499.6 480.6 L231.4 403.6 Q229.6 403 229.5 401Z" fill="url(#gFrontV)"/>
<filter id="pblurB" x="-5%" y="-20%" width="110%" height="140%"><feGaussianBlur stdDeviation="1.3"/></filter>
<filter id="pblurC" x="-5%" y="-30%" width="110%" height="160%"><feGaussianBlur stdDeviation="2.2"/></filter>
<g clip-path="url(#clipCover)">
<polygon points="218.0,347.4 518.0,411.6 518.0,427.0 218.0,353.8" fill="url(#gDarkBand)" filter="url(#pblurB)"/>
<polygon points="218.0,357.5 518.0,435.5 518.0,447.0 218.0,362.5" fill="#949aa5" opacity="0.55" filter="url(#pblurC)"/>
<polygon points="218.0,353.2 518.0,428.0 518.0,437.6 218.0,358.8" fill="#c3cad5" filter="url(#pblurB)"/>
<path d="M230.4 364 L231.2 402.5" stroke="#9ca2ac" stroke-width="2.6" fill="none" opacity="0.6" filter="url(#pblur1)"/>
</g>
<path d="M512 420.2 L585.6 376.4" stroke="#454950" stroke-width="2.6" fill="none"/>
<path d="M500.2 480.4 L502.2 436 Q502.8 426.5 511.5 420 L584 375.2 Q589.4 372.8 590.2 379 L592 421" stroke="#a9afb9" stroke-width="1.5" fill="none" stroke-linejoin="round"/>
<path d="M231 403.2L499.8 480.6" stroke="#3f434a" stroke-width="1" fill="none"/>
<path d="M445.5 338.2 L366 381.6 Q360.4 385 359.4 391.4 L357.4 440.4" stroke="#4c5159" stroke-width="1" fill="none"/>
<path d="M360.6 391.6 L358.6 440.8" stroke="#8d939d" stroke-width="0.7" fill="none" opacity="0.7"/>
<path d="M331.0 340.0 L365.0 322.5 L413.7 333.7 L375.0 353.7 Z" fill="none" stroke="#50555d" stroke-width="0.9" stroke-linejoin="round"/>
<path d="M361.6 333.4L374.3 327.9" stroke="#3b3e44" stroke-width="4.6" stroke-linecap="butt"/>
<path d="M361.0 332.5L373.7 327.0" stroke="#eef0f3" stroke-width="3.1" stroke-linecap="butt"/>
<path d="M384.3 339.6L397.6 333.9" stroke="#3b3e44" stroke-width="4.6" stroke-linecap="butt"/>
<path d="M383.7 338.7L397.0 333.0" stroke="#eef0f3" stroke-width="3.1" stroke-linecap="butt"/>
<ellipse cx="364.5" cy="343.4" rx="5" ry="3.2" fill="#3b3e44"/>
<ellipse cx="363.1" cy="342.5" rx="4.8" ry="3" fill="#e4e7ec"/>
<ellipse cx="364.6" cy="342.3" rx="3.6" ry="2.4" fill="#8d939c"/>
<ellipse cx="364.9" cy="343.1" rx="2.2" ry="1.3" fill="#4a4e56"/>
<path d="M430.0 367.0 L465.0 347.5 L515.0 358.7 L476.0 381.0 Z" fill="none" stroke="#50555d" stroke-width="0.9" stroke-linejoin="round"/>
<path d="M460.6 359.6L473.1 353.9" stroke="#3b3e44" stroke-width="4.6" stroke-linecap="butt"/>
<path d="M460.0 358.7L472.5 353.0" stroke="#eef0f3" stroke-width="3.1" stroke-linecap="butt"/>
<path d="M485.1 365.4L497.6 360.4" stroke="#3b3e44" stroke-width="4.6" stroke-linecap="butt"/>
<path d="M484.5 364.5L497.0 359.5" stroke="#eef0f3" stroke-width="3.1" stroke-linecap="butt"/>
<ellipse cx="463.8" cy="369.6" rx="5" ry="3.2" fill="#3b3e44"/>
<ellipse cx="462.4" cy="368.7" rx="4.8" ry="3" fill="#e4e7ec"/>
<ellipse cx="463.9" cy="368.5" rx="3.6" ry="2.4" fill="#8d939c"/>
<ellipse cx="464.2" cy="369.3" rx="2.2" ry="1.3" fill="#4a4e56"/>
<path d="M402.5 360.7L442.5 340" stroke="#1d8fe8" stroke-width="6" opacity="0.35" filter="url(#pblur2)"/>
<path d="M402.5 360.7L442.5 340" stroke="#2cabf6" stroke-width="3.4" stroke-linecap="round"/>
<path d="M394.6 380.7 L474.8 397.6" stroke="#17191c" stroke-width="10.2" stroke-linecap="round"/>
<ellipse cx="405.6" cy="381" rx="6.6" ry="4.1" fill="#4a4e56" stroke="#8d939c" stroke-width="1.2"/><ellipse cx="405.6" cy="381" rx="3.6" ry="2.2" fill="none" stroke="#70757e" stroke-width="0.8"/>
<circle cx="420" cy="386" r="0.9" fill="#2f7cff"/>
<text transform="matrix(-0.9 -0.2 0.62 -0.56 462.6 397.4)" font-family="Liberation Mono,monospace" font-weight="700" font-size="12.6" fill="#3d8bff" stroke="#3d8bff" stroke-width="0.45">12.8</text>
<path d="M440 389.2L462.5 393.6" stroke="#5a4ad8" stroke-width="0.9" opacity="0.8"/>
<text transform="matrix(-1.3 -0.37 1.2 -0.6 344.5 357.6)" font-family="Liberation Sans,sans-serif" font-weight="700" font-size="9.4" fill="#f09526" stroke="#f09526" stroke-width="0.25">Aemeku</text>
<text transform="matrix(-1.0 -0.28 0.9 -0.45 353.5 358.2)" font-family="Liberation Sans,sans-serif" font-weight="700" font-size="4" fill="#e07a2a">Multi-function Car Inverter</text>
</g>
</g>


<!-- icon badges -->
<defs>
  <radialGradient id="badgeGlow" cx="0.5" cy="0.5" r="0.5">
    <stop offset="0.91" stop-color="#08337e" stop-opacity="0.9"/>
    <stop offset="0.955" stop-color="#08337e" stop-opacity="0.35"/>
    <stop offset="1" stop-color="#0b3f96" stop-opacity="0"/>
  </radialGradient>
</defs>
<g id="badges">
  <g transform="translate(157 282)">
    <circle r="47.5" fill="url(#badgeGlow)"/>
    <circle r="43" fill="#ffffff" stroke="#0a59cc" stroke-width="2.1"/>
    <g stroke="#0f6fe0" fill="none" stroke-linecap="round">
      <path d="M-29.2 0H-18M20 0H31.3" stroke-width="3.4"/>
      <circle cx="-12.6" cy="0" r="4.3" stroke-width="3.2"/>
      <circle cx="14.5" cy="0" r="4.3" stroke-width="3.2"/>
      <path d="M-3.2 -4.2L5.2 4.2M5.2 -4.2L-3.2 4.2" stroke-width="3.4"/>
    </g>
    <text class="lbl" x="-0.5" y="59" text-anchor="middle">Short-Circuit</text>
    <text class="lbl" x="-0.5" y="72" text-anchor="middle">Protection</text>
  </g>
  <g transform="translate(102 456.5)">
    <circle r="47.5" fill="url(#badgeGlow)"/>
    <circle r="43" fill="#ffffff" stroke="#0a59cc" stroke-width="2.1"/>
    <g fill="#0f6fe0">
      <circle cx="-1.2" cy="14.4" r="12.3"/>
      <path d="M-6.9 8V-21.7a5.95 5.95 0 0 1 11.9 0V8Z"/>
      <path d="M-3.7 -12V-21.6a2.55 2.55 0 0 1 5.1 0V-12Z" fill="#ffffff"/>
      <g stroke="#0f6fe0" stroke-width="2.1" stroke-linecap="round" fill="none">
        <path d="M5 -21.3H13.6M5 -14.1H13.6M5 -6.4H13.6M5 0.8H13.6"/>
        <path d="M5 -17.75H10.6M5 -10.3H10.6M5 -2.9H10.6"/>
      </g>
    </g>
    <text class="lbl" x="-0.4" y="58.5" text-anchor="middle">Over-Heat</text>
    <text class="lbl" x="-0.4" y="71.5" text-anchor="middle">Protection</text>
  </g>
  <g transform="translate(157 630.3)">
    <circle r="47.5" fill="url(#badgeGlow)"/>
    <circle r="43" fill="#ffffff" stroke="#0a59cc" stroke-width="2.1"/>
    <path fill="#0f6fe0" d="M-4.6 -26.2H6.9L0.5 -6.2L12.4 -8.8L3.9 16.7L6.2 18.6L-2 26.9L-6 15.2L-2.5 16.7L2.6 3.1L-12.7 7.4Z"/>
    <text class="lbl" x="-0.2" y="58.5" text-anchor="middle">Over-Voltage</text>
    <text class="lbl" x="-0.2" y="71.5" text-anchor="middle">Protection</text>
  </g>
  <g transform="translate(645.3 282.8)">
    <circle r="47.5" fill="url(#badgeGlow)"/>
    <circle r="43" fill="#ffffff" stroke="#0a59cc" stroke-width="2.1"/>
    <g fill="#0f6fe0">
      <rect x="-4.7" y="-29.8" width="10.8" height="5" rx="1.6"/>
      <rect x="-14" y="-24.4" width="29.2" height="51" rx="4" fill="none" stroke="#0f6fe0" stroke-width="2.5"/>
      <rect x="-11" y="-20.9" width="23.5" height="5.3" rx="1.4"/>
      <rect x="-11" y="-13.9" width="23.5" height="8.4"/>
      <rect x="-11" y="-3.1" width="23.5" height="8.4"/>
      <rect x="-11" y="7.7" width="23.5" height="8.4"/>
      <rect x="-11" y="18.4" width="23.5" height="5.3" rx="1.4"/>
    </g>
    <text class="lbl" x="0" y="58.5" text-anchor="middle">Over-Charge</text>
    <text class="lbl" x="0" y="71.5" text-anchor="middle">Protection</text>
  </g>
  <g transform="translate(696.8 456.8)">
    <circle r="47.5" fill="url(#badgeGlow)"/>
    <circle r="43" fill="#ffffff" stroke="#0a59cc" stroke-width="2.1"/>
    <g fill="#0f6fe0">
      <rect x="-5.4" y="-29" width="10.3" height="4.6" rx="1.5"/>
      <rect x="-14.1" y="-24" width="27.9" height="50.6" rx="4" fill="none" stroke="#0f6fe0" stroke-width="2.7"/>
      <rect x="-11.3" y="19.8" width="22.5" height="4" rx="1.8"/>
      <path d="M3.1 -16.6L-5.9 0.5L-0.1 2.3L-3.2 17.6L6.2 -0.4L0.8 -2.2Z"/>
    </g>
    <text class="lbl" x="-0.6" y="58.5" text-anchor="middle">Low-Voltage</text>
    <text class="lbl" x="-0.6" y="71.5" text-anchor="middle">Protection</text>
  </g>
  <g transform="translate(646 630.5)">
    <circle r="47.5" fill="url(#badgeGlow)"/>
    <circle r="43" fill="#ffffff" stroke="#0a59cc" stroke-width="2.1"/>
    <path fill="none" stroke="#0f6fe0" stroke-width="3" stroke-linecap="round" stroke-linejoin="round"
      d="M-24 0.1H-18L-15.2 11L-11.9 -16.6L-6.2 16L-0.5 -7L2.3 8L6.8 -2.8L10 4.6L12.9 -1.3L14.5 -0.3H24.4"/>
    <text class="lbl" x="-0.6" y="58.5" text-anchor="middle">Over-Load</text>
    <text class="lbl" x="-0.6" y="71.5" text-anchor="middle">Protection</text>
  </g>
</g>


</svg>
</body>
</html>
